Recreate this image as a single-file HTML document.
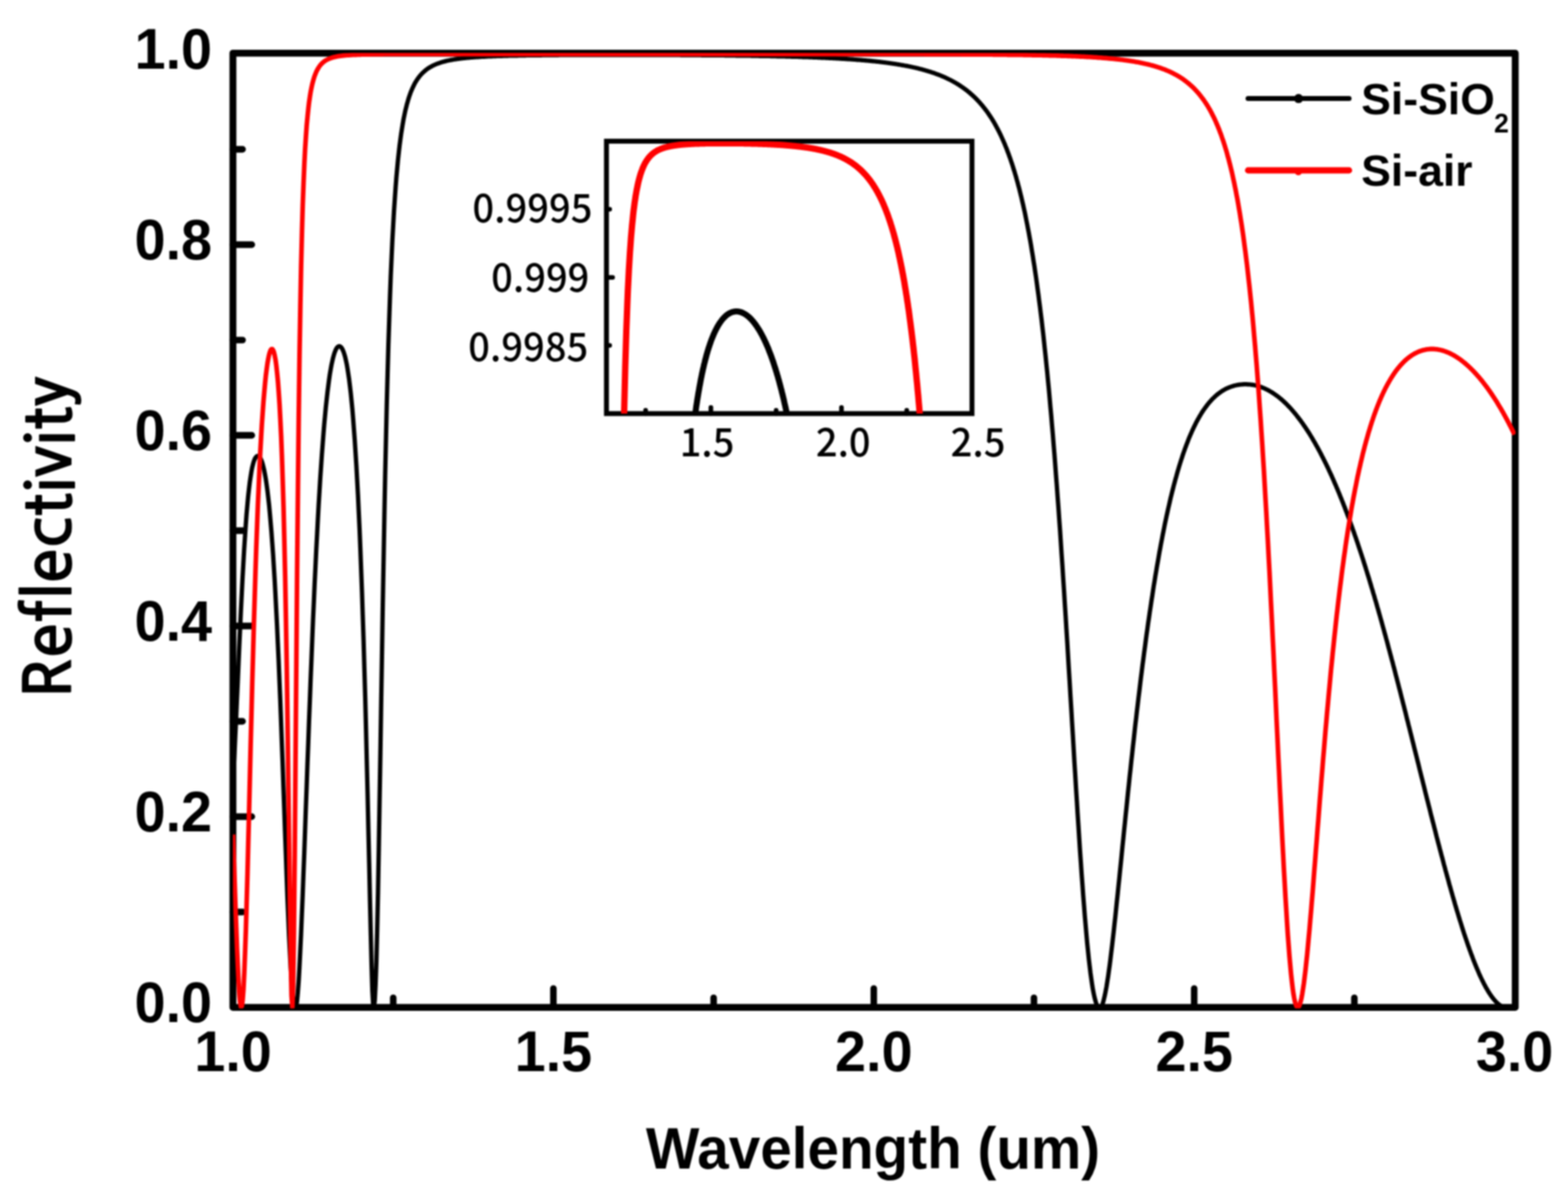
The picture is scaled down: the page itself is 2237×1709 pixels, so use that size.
<!DOCTYPE html>
<html lang="en"><head><meta charset="utf-8"><title>Reflectivity vs Wavelength</title>
<style>html,body{margin:0;padding:0;background:#fff;overflow:hidden}svg{display:block}.a{font-family:"Liberation Sans",Arial,Helvetica,sans-serif;font-weight:700;fill:#000}.m{font-family:"NanumGothic","Noto Sans CJK KR","Liberation Sans",sans-serif;font-weight:700;fill:#000}.n{font-family:"Noto Sans CJK KR","NanumGothic","Liberation Sans",sans-serif;font-weight:400;fill:#000}.k{font-family:"Noto Sans CJK KR","NanumGothic","Liberation Sans",sans-serif;font-weight:500;fill:#000}.g{font-family:"NanumGothic","Noto Sans CJK KR","Liberation Sans",sans-serif;font-weight:400;fill:#000}</style></head><body>
<svg width="2237" height="1709" viewBox="0 0 2237 1709">
<defs><clipPath id="cm"><rect x="332.3" y="75.6" width="1829.9" height="1363.0"/></clipPath><clipPath id="ci"><rect x="865.2" y="201.4" width="521.5" height="388.6"/></clipPath></defs>
<rect width="2237" height="1709" fill="#fff"/>
<defs><filter id="bl" x="-2%" y="-2%" width="104%" height="104%" color-interpolation-filters="sRGB"><feGaussianBlur stdDeviation="0.8"/></filter></defs>
<g filter="url(#bl)">
<rect x="-40" y="-40" width="2317" height="1789" fill="#fff"/>
<g fill="none" stroke="#000" stroke-linecap="round" stroke-linejoin="round">
<rect x="332.3" y="75.8" width="1829.4" height="1361.3" stroke-width="9.8"/>
<path d="M332.3,1301.0h13.8M332.3,1165.0h27.0M332.3,1029.0h13.8M332.3,893.0h27.0M332.3,757.0h13.8M332.3,621.0h27.0M332.3,485.1h13.8M332.3,349.0h27.0M332.3,213.0h13.8M561.0,1437.1v-13.8M789.5,1437.1v-27.0M1018.1,1437.1v-13.8M1246.6,1437.1v-27.0M1475.1,1437.1v-13.8M1703.7,1437.1v-27.0M1932.2,1437.1v-13.8" stroke-width="9.3"/>
</g>
<g>
<text class="a" font-size="82" text-anchor="end" transform="translate(302.5,1458.2) scale(0.97,1)">0.0</text>
<text class="a" font-size="82" text-anchor="end" transform="translate(302.5,1186.2) scale(0.97,1)">0.2</text>
<text class="a" font-size="82" text-anchor="end" transform="translate(302.5,914.2) scale(0.97,1)">0.4</text>
<text class="a" font-size="82" text-anchor="end" transform="translate(302.5,642.2) scale(0.97,1)">0.6</text>
<text class="a" font-size="82" text-anchor="end" transform="translate(302.5,370.2) scale(0.97,1)">0.8</text>
<text class="a" font-size="82" text-anchor="end" transform="translate(302.5,98.2) scale(0.97,1)">1.0</text>
<text class="a" font-size="82" text-anchor="middle" transform="translate(332.5,1528.3) scale(0.97,1)">1.0</text>
<text class="a" font-size="82" text-anchor="middle" transform="translate(789.5,1528.3) scale(0.97,1)">1.5</text>
<text class="a" font-size="82" text-anchor="middle" transform="translate(1246.6,1528.3) scale(0.97,1)">2.0</text>
<text class="a" font-size="82" text-anchor="middle" transform="translate(1703.7,1528.3) scale(0.97,1)">2.5</text>
<text class="a" font-size="82" text-anchor="middle" transform="translate(2160.7,1528.3) scale(0.97,1)">3.0</text>
</g>
<text class="a" font-size="83.0" text-anchor="middle" transform="translate(1245.5,1667.0) scale(0.974,1)">Wavelength (um)</text>
<text class="m" font-size="92.6" text-anchor="middle" transform="translate(102,766.9) rotate(-90) scale(1.0,1)">Reflectivity</text>
<g clip-path="url(#cm)" fill="none" stroke-linejoin="round" stroke-linecap="butt">
<path d="M332.3,1121.1 L333.4,1098.1 L334.6,1074.3 L335.7,1049.7 L336.9,1024.5 L338.0,998.8 L339.2,972.8 L340.3,946.8 L341.4,921.0 L342.6,895.7 L343.7,871.1 L344.9,847.4 L346.0,825.0 L347.2,803.8 L348.3,784.1 L349.5,765.9 L350.6,749.2 L351.7,734.1 L352.9,720.5 L354.0,708.4 L355.2,697.7 L356.3,688.3 L357.5,680.2 L358.6,673.2 L359.7,667.3 L360.9,662.5 L362.0,658.5 L363.2,655.4 L364.3,653.1 L365.5,651.6 L366.6,650.7 L367.7,650.4 L368.9,650.7 L370.0,651.6 L371.2,653.1 L372.3,655.2 L373.5,658.0 L374.6,661.5 L375.7,665.7 L376.9,670.7 L378.0,676.6 L379.2,683.3 L380.3,690.9 L381.5,699.5 L382.6,709.0 L383.8,719.6 L384.9,731.3 L386.0,744.1 L387.2,758.0 L388.3,773.2 L389.5,789.6 L390.6,807.3 L391.8,826.4 L392.9,846.8 L394.0,868.5 L395.2,891.6 L396.3,916.2 L397.5,942.0 L398.6,969.2 L399.8,997.6 L400.9,1027.1 L402.0,1057.6 L403.2,1089.0 L404.3,1120.9 L405.5,1153.2 L406.6,1185.5 L407.8,1217.5 L408.9,1248.8 L410.0,1278.9 L411.2,1307.4 L412.3,1333.9 L413.5,1357.9 L414.6,1379.1 L415.8,1397.3 L416.9,1412.2 L418.1,1423.6 L419.2,1431.7 L420.3,1436.5 L421.5,1438.0 L422.6,1435.4 L423.8,1427.9 L424.9,1415.9 L426.1,1399.9 L427.2,1380.4 L428.3,1357.9 L429.5,1333.0 L430.6,1306.0 L431.8,1277.4 L432.9,1247.6 L434.1,1216.9 L435.2,1185.6 L436.3,1153.9 L437.5,1122.2 L438.6,1090.6 L439.8,1059.3 L440.9,1028.4 L442.1,998.1 L443.2,968.4 L444.4,939.5 L445.5,911.4 L446.6,884.1 L447.8,857.8 L448.9,832.4 L450.1,807.9 L451.2,784.5 L452.4,762.1 L453.5,740.7 L454.6,720.3 L455.8,700.9 L456.9,682.4 L458.1,665.0 L459.2,648.6 L460.4,633.1 L461.5,618.5 L462.6,604.9 L463.8,592.2 L464.9,580.4 L466.1,569.4 L467.2,559.3 L468.4,550.0 L469.5,541.5 L470.6,533.8 L471.8,526.8 L472.9,520.6 L474.1,515.1 L475.2,510.3 L476.4,506.1 L477.5,502.6 L478.7,499.7 L479.8,497.4 L480.9,495.7 L482.1,494.6 L483.2,494.0 L484.4,493.9 L485.5,494.3 L486.7,495.3 L487.8,496.8 L488.9,499.0 L490.1,501.7 L491.2,505.1 L492.4,509.2 L493.5,514.0 L494.7,519.6 L495.8,526.0 L496.9,533.2 L498.1,541.3 L499.2,550.4 L500.4,560.5 L501.5,571.6 L502.7,583.8 L503.8,597.2 L504.9,611.9 L506.1,627.8 L507.2,645.1 L508.4,663.9 L509.5,684.2 L510.7,706.1 L511.8,729.8 L513.0,755.3 L514.1,782.7 L515.2,812.1 L516.4,843.7 L517.5,877.5 L518.7,913.6 L519.8,952.2 L521.0,993.2 L522.1,1036.7 L523.2,1082.7 L524.4,1130.9 L525.5,1181.1 L526.7,1232.4 L527.8,1283.8 L529.0,1333.4 L530.1,1378.0 L531.2,1413.4 L532.4,1434.3 L533.5,1437.0 L534.7,1427.1 L535.8,1405.2 L537.0,1371.7 L538.1,1327.2 L539.3,1273.2 L540.4,1211.6 L541.5,1144.5 L542.7,1074.1 L543.8,1002.5 L545.0,931.6 L546.1,862.8 L547.3,797.1 L548.4,735.3 L549.5,677.8 L550.7,624.8 L551.8,576.2 L553.0,532.0 L554.1,491.8 L555.3,455.5 L556.4,422.6 L557.5,393.0 L558.7,366.4 L559.8,342.3 L561.0,320.6 L562.1,301.0 L563.3,283.4 L564.4,267.4 L565.5,253.0 L566.7,239.9 L567.8,228.0 L569.0,217.2 L570.1,207.4 L571.3,198.4 L572.4,190.2 L573.6,182.8 L574.7,175.9 L575.8,169.6 L577.0,163.9 L578.1,158.6 L579.3,153.7 L580.4,149.2 L581.6,145.1 L582.7,141.2 L583.8,137.7 L585.0,134.4 L586.1,131.3 L587.3,128.5 L588.4,125.9 L589.6,123.4 L590.7,121.1 L591.8,118.9 L593.0,116.9 L594.1,115.1 L595.3,113.3 L596.4,111.7 L597.6,110.1 L598.7,108.7 L599.8,107.3 L601.0,106.0 L602.1,104.8 L603.3,103.7 L604.4,102.6 L605.6,101.6 L606.7,100.6 L607.9,99.7 L609.0,98.8 L610.1,98.0 L611.3,97.3 L612.4,96.5 L613.6,95.8 L614.7,95.2 L615.9,94.5 L617.0,93.9 L618.1,93.4 L619.3,92.8 L620.4,92.3 L621.6,91.8 L622.7,91.3 L623.9,90.9 L625.0,90.5 L626.1,90.1 L627.3,89.7 L628.4,89.3 L629.6,88.9 L630.7,88.6 L631.9,88.3 L633.0,87.9 L634.2,87.6 L635.3,87.4 L636.4,87.1 L637.6,86.8 L638.7,86.5 L639.9,86.3 L641.0,86.1 L642.2,85.8 L643.3,85.6 L644.4,85.4 L645.6,85.2 L646.7,85.0 L647.9,84.8 L649.0,84.6 L650.2,84.4 L651.3,84.3 L652.4,84.1 L653.6,84.0 L654.7,83.8 L655.9,83.7 L657.0,83.5 L658.2,83.4 L659.3,83.2 L660.4,83.1 L661.6,83.0 L662.7,82.9 L663.9,82.7 L665.0,82.6 L666.2,82.5 L667.3,82.4 L668.5,82.3 L669.6,82.2 L670.7,82.1 L671.9,82.0 L673.0,81.9 L674.2,81.8 L675.3,81.7 L676.5,81.7 L677.6,81.6 L678.7,81.5 L679.9,81.4 L681.0,81.3 L682.2,81.3 L683.3,81.2 L684.5,81.1 L685.6,81.1 L686.7,81.0 L687.9,80.9 L689.0,80.9 L690.2,80.8 L691.3,80.8 L692.5,80.7 L693.6,80.6 L694.7,80.6 L695.9,80.5 L697.0,80.5 L698.2,80.4 L699.3,80.4 L700.5,80.3 L701.6,80.3 L702.8,80.2 L703.9,80.2 L705.0,80.2 L706.2,80.1 L707.3,80.1 L708.5,80.0 L709.6,80.0 L710.8,80.0 L711.9,79.9 L713.0,79.9 L714.2,79.9 L715.3,79.8 L716.5,79.8 L717.6,79.7 L718.8,79.7 L719.9,79.7 L721.0,79.7 L722.2,79.6 L723.3,79.6 L724.5,79.6 L725.6,79.5 L726.8,79.5 L727.9,79.5 L729.1,79.5 L730.2,79.4 L731.3,79.4 L732.5,79.4 L733.6,79.4 L734.8,79.3 L735.9,79.3 L737.1,79.3 L738.2,79.3 L739.3,79.2 L740.5,79.2 L741.6,79.2 L742.8,79.2 L743.9,79.2 L745.1,79.1 L746.2,79.1 L747.3,79.1 L748.5,79.1 L749.6,79.1 L750.8,79.0 L751.9,79.0 L753.1,79.0 L754.2,79.0 L755.3,79.0 L756.5,79.0 L757.6,78.9 L758.8,78.9 L759.9,78.9 L761.1,78.9 L762.2,78.9 L763.4,78.9 L764.5,78.8 L765.6,78.8 L766.8,78.8 L767.9,78.8 L769.1,78.8 L770.2,78.8 L771.4,78.8 L772.5,78.8 L773.6,78.7 L774.8,78.7 L775.9,78.7 L777.1,78.7 L778.2,78.7 L779.4,78.7 L780.5,78.7 L781.6,78.7 L782.8,78.7 L783.9,78.6 L785.1,78.6 L786.2,78.6 L787.4,78.6 L788.5,78.6 L789.7,78.6 L790.8,78.6 L791.9,78.6 L793.1,78.6 L794.2,78.6 L795.4,78.6 L796.5,78.6 L797.7,78.5 L798.8,78.5 L799.9,78.5 L801.1,78.5 L802.2,78.5 L803.4,78.5 L804.5,78.5 L805.7,78.5 L806.8,78.5 L807.9,78.5 L809.1,78.5 L810.2,78.5 L811.4,78.5 L812.5,78.5 L813.7,78.4 L814.8,78.4 L815.9,78.4 L817.1,78.4 L818.2,78.4 L819.4,78.4 L820.5,78.4 L821.7,78.4 L822.8,78.4 L824.0,78.4 L825.1,78.4 L826.2,78.4 L827.4,78.4 L828.5,78.4 L829.7,78.4 L830.8,78.4 L832.0,78.4 L833.1,78.4 L834.2,78.4 L835.4,78.4 L836.5,78.4 L837.7,78.4 L838.8,78.4 L840.0,78.4 L841.1,78.3 L842.2,78.3 L843.4,78.3 L844.5,78.3 L845.7,78.3 L846.8,78.3 L848.0,78.3 L849.1,78.3 L850.2,78.3 L851.4,78.3 L852.5,78.3 L853.7,78.3 L854.8,78.3 L856.0,78.3 L857.1,78.3 L858.3,78.3 L859.4,78.3 L860.5,78.3 L861.7,78.3 L862.8,78.3 L864.0,78.3 L865.1,78.3 L866.3,78.3 L867.4,78.3 L868.5,78.3 L869.7,78.3 L870.8,78.3 L872.0,78.3 L873.1,78.3 L874.3,78.3 L875.4,78.3 L876.5,78.3 L877.7,78.3 L878.8,78.3 L880.0,78.3 L881.1,78.3 L882.3,78.3 L883.4,78.3 L884.6,78.3 L885.7,78.3 L886.8,78.3 L888.0,78.3 L889.1,78.3 L890.3,78.3 L891.4,78.3 L892.6,78.3 L893.7,78.3 L894.8,78.3 L896.0,78.3 L897.1,78.3 L898.3,78.3 L899.4,78.3 L900.6,78.3 L901.7,78.3 L902.8,78.3 L904.0,78.3 L905.1,78.3 L906.3,78.3 L907.4,78.3 L908.6,78.3 L909.7,78.3 L910.8,78.3 L912.0,78.3 L913.1,78.3 L914.3,78.3 L915.4,78.3 L916.6,78.3 L917.7,78.3 L918.9,78.3 L920.0,78.4 L921.1,78.4 L922.3,78.4 L923.4,78.4 L924.6,78.4 L925.7,78.4 L926.9,78.4 L928.0,78.4 L929.1,78.4 L930.3,78.4 L931.4,78.4 L932.6,78.4 L933.7,78.4 L934.9,78.4 L936.0,78.4 L937.1,78.4 L938.3,78.4 L939.4,78.4 L940.6,78.4 L941.7,78.4 L942.9,78.4 L944.0,78.4 L945.1,78.4 L946.3,78.4 L947.4,78.4 L948.6,78.4 L949.7,78.4 L950.9,78.5 L952.0,78.5 L953.2,78.5 L954.3,78.5 L955.4,78.5 L956.6,78.5 L957.7,78.5 L958.9,78.5 L960.0,78.5 L961.2,78.5 L962.3,78.5 L963.4,78.5 L964.6,78.5 L965.7,78.5 L966.9,78.5 L968.0,78.5 L969.2,78.5 L970.3,78.5 L971.4,78.6 L972.6,78.6 L973.7,78.6 L974.9,78.6 L976.0,78.6 L977.2,78.6 L978.3,78.6 L979.5,78.6 L980.6,78.6 L981.7,78.6 L982.9,78.6 L984.0,78.6 L985.2,78.6 L986.3,78.6 L987.5,78.7 L988.6,78.7 L989.7,78.7 L990.9,78.7 L992.0,78.7 L993.2,78.7 L994.3,78.7 L995.5,78.7 L996.6,78.7 L997.7,78.7 L998.9,78.7 L1000.0,78.7 L1001.2,78.8 L1002.3,78.8 L1003.5,78.8 L1004.6,78.8 L1005.7,78.8 L1006.9,78.8 L1008.0,78.8 L1009.2,78.8 L1010.3,78.8 L1011.5,78.8 L1012.6,78.8 L1013.8,78.9 L1014.9,78.9 L1016.0,78.9 L1017.2,78.9 L1018.3,78.9 L1019.5,78.9 L1020.6,78.9 L1021.8,78.9 L1022.9,78.9 L1024.0,79.0 L1025.2,79.0 L1026.3,79.0 L1027.5,79.0 L1028.6,79.0 L1029.8,79.0 L1030.9,79.0 L1032.0,79.0 L1033.2,79.0 L1034.3,79.1 L1035.5,79.1 L1036.6,79.1 L1037.8,79.1 L1038.9,79.1 L1040.0,79.1 L1041.2,79.1 L1042.3,79.2 L1043.5,79.2 L1044.6,79.2 L1045.8,79.2 L1046.9,79.2 L1048.1,79.2 L1049.2,79.2 L1050.3,79.3 L1051.5,79.3 L1052.6,79.3 L1053.8,79.3 L1054.9,79.3 L1056.1,79.3 L1057.2,79.3 L1058.3,79.4 L1059.5,79.4 L1060.6,79.4 L1061.8,79.4 L1062.9,79.4 L1064.1,79.4 L1065.2,79.5 L1066.3,79.5 L1067.5,79.5 L1068.6,79.5 L1069.8,79.5 L1070.9,79.5 L1072.1,79.6 L1073.2,79.6 L1074.4,79.6 L1075.5,79.6 L1076.6,79.6 L1077.8,79.7 L1078.9,79.7 L1080.1,79.7 L1081.2,79.7 L1082.4,79.7 L1083.5,79.8 L1084.6,79.8 L1085.8,79.8 L1086.9,79.8 L1088.1,79.8 L1089.2,79.9 L1090.4,79.9 L1091.5,79.9 L1092.6,79.9 L1093.8,79.9 L1094.9,80.0 L1096.1,80.0 L1097.2,80.0 L1098.4,80.0 L1099.5,80.1 L1100.6,80.1 L1101.8,80.1 L1102.9,80.1 L1104.1,80.2 L1105.2,80.2 L1106.4,80.2 L1107.5,80.2 L1108.7,80.3 L1109.8,80.3 L1110.9,80.3 L1112.1,80.3 L1113.2,80.4 L1114.4,80.4 L1115.5,80.4 L1116.7,80.4 L1117.8,80.5 L1118.9,80.5 L1120.1,80.5 L1121.2,80.6 L1122.4,80.6 L1123.5,80.6 L1124.7,80.7 L1125.8,80.7 L1126.9,80.7 L1128.1,80.7 L1129.2,80.8 L1130.4,80.8 L1131.5,80.8 L1132.7,80.9 L1133.8,80.9 L1134.9,80.9 L1136.1,81.0 L1137.2,81.0 L1138.4,81.0 L1139.5,81.1 L1140.7,81.1 L1141.8,81.1 L1143.0,81.2 L1144.1,81.2 L1145.2,81.3 L1146.4,81.3 L1147.5,81.3 L1148.7,81.4 L1149.8,81.4 L1151.0,81.5 L1152.1,81.5 L1153.2,81.5 L1154.4,81.6 L1155.5,81.6 L1156.7,81.7 L1157.8,81.7 L1159.0,81.7 L1160.1,81.8 L1161.2,81.8 L1162.4,81.9 L1163.5,81.9 L1164.7,82.0 L1165.8,82.0 L1167.0,82.1 L1168.1,82.1 L1169.3,82.2 L1170.4,82.2 L1171.5,82.3 L1172.7,82.3 L1173.8,82.4 L1175.0,82.4 L1176.1,82.5 L1177.3,82.5 L1178.4,82.6 L1179.5,82.6 L1180.7,82.7 L1181.8,82.7 L1183.0,82.8 L1184.1,82.8 L1185.3,82.9 L1186.4,82.9 L1187.5,83.0 L1188.7,83.1 L1189.8,83.1 L1191.0,83.2 L1192.1,83.2 L1193.3,83.3 L1194.4,83.4 L1195.5,83.4 L1196.7,83.5 L1197.8,83.6 L1199.0,83.6 L1200.1,83.7 L1201.3,83.8 L1202.4,83.8 L1203.6,83.9 L1204.7,84.0 L1205.8,84.1 L1207.0,84.1 L1208.1,84.2 L1209.3,84.3 L1210.4,84.3 L1211.6,84.4 L1212.7,84.5 L1213.8,84.6 L1215.0,84.7 L1216.1,84.7 L1217.3,84.8 L1218.4,84.9 L1219.6,85.0 L1220.7,85.1 L1221.8,85.2 L1223.0,85.3 L1224.1,85.3 L1225.3,85.4 L1226.4,85.5 L1227.6,85.6 L1228.7,85.7 L1229.8,85.8 L1231.0,85.9 L1232.1,86.0 L1233.3,86.1 L1234.4,86.2 L1235.6,86.3 L1236.7,86.4 L1237.9,86.5 L1239.0,86.6 L1240.1,86.7 L1241.3,86.8 L1242.4,86.9 L1243.6,87.1 L1244.7,87.2 L1245.9,87.3 L1247.0,87.4 L1248.1,87.5 L1249.3,87.6 L1250.4,87.8 L1251.6,87.9 L1252.7,88.0 L1253.9,88.1 L1255.0,88.3 L1256.1,88.4 L1257.3,88.5 L1258.4,88.7 L1259.6,88.8 L1260.7,89.0 L1261.9,89.1 L1263.0,89.2 L1264.2,89.4 L1265.3,89.5 L1266.4,89.7 L1267.6,89.8 L1268.7,90.0 L1269.9,90.2 L1271.0,90.3 L1272.2,90.5 L1273.3,90.7 L1274.4,90.8 L1275.6,91.0 L1276.7,91.2 L1277.9,91.3 L1279.0,91.5 L1280.2,91.7 L1281.3,91.9 L1282.4,92.1 L1283.6,92.3 L1284.7,92.5 L1285.9,92.7 L1287.0,92.9 L1288.2,93.1 L1289.3,93.3 L1290.4,93.5 L1291.6,93.7 L1292.7,93.9 L1293.9,94.1 L1295.0,94.3 L1296.2,94.6 L1297.3,94.8 L1298.5,95.0 L1299.6,95.3 L1300.7,95.5 L1301.9,95.8 L1303.0,96.0 L1304.2,96.3 L1305.3,96.5 L1306.5,96.8 L1307.6,97.1 L1308.7,97.3 L1309.9,97.6 L1311.0,97.9 L1312.2,98.2 L1313.3,98.5 L1314.5,98.8 L1315.6,99.1 L1316.7,99.4 L1317.9,99.7 L1319.0,100.0 L1320.2,100.4 L1321.3,100.7 L1322.5,101.0 L1323.6,101.4 L1324.7,101.7 L1325.9,102.1 L1327.0,102.4 L1328.2,102.8 L1329.3,103.2 L1330.5,103.6 L1331.6,103.9 L1332.8,104.3 L1333.9,104.7 L1335.0,105.2 L1336.2,105.6 L1337.3,106.0 L1338.5,106.4 L1339.6,106.9 L1340.8,107.3 L1341.9,107.8 L1343.0,108.3 L1344.2,108.7 L1345.3,109.2 L1346.5,109.7 L1347.6,110.2 L1348.8,110.7 L1349.9,111.3 L1351.0,111.8 L1352.2,112.3 L1353.3,112.9 L1354.5,113.5 L1355.6,114.0 L1356.8,114.6 L1357.9,115.2 L1359.1,115.8 L1360.2,116.5 L1361.3,117.1 L1362.5,117.8 L1363.6,118.4 L1364.8,119.1 L1365.9,119.8 L1367.1,120.5 L1368.2,121.2 L1369.3,122.0 L1370.5,122.7 L1371.6,123.5 L1372.8,124.3 L1373.9,125.1 L1375.1,125.9 L1376.2,126.7 L1377.3,127.6 L1378.5,128.4 L1379.6,129.3 L1380.8,130.2 L1381.9,131.2 L1383.1,132.1 L1384.2,133.1 L1385.3,134.1 L1386.5,135.1 L1387.6,136.1 L1388.8,137.2 L1389.9,138.3 L1391.1,139.4 L1392.2,140.5 L1393.4,141.7 L1394.5,142.9 L1395.6,144.1 L1396.8,145.3 L1397.9,146.6 L1399.1,147.9 L1400.2,149.2 L1401.4,150.6 L1402.5,152.0 L1403.6,153.4 L1404.8,154.8 L1405.9,156.3 L1407.1,157.9 L1408.2,159.4 L1409.4,161.0 L1410.5,162.7 L1411.6,164.4 L1412.8,166.1 L1413.9,167.8 L1415.1,169.6 L1416.2,171.5 L1417.4,173.4 L1418.5,175.3 L1419.6,177.3 L1420.8,179.4 L1421.9,181.5 L1423.1,183.6 L1424.2,185.8 L1425.4,188.1 L1426.5,190.4 L1427.7,192.8 L1428.8,195.2 L1429.9,197.7 L1431.1,200.3 L1432.2,202.9 L1433.4,205.6 L1434.5,208.4 L1435.7,211.2 L1436.8,214.1 L1437.9,217.1 L1439.1,220.2 L1440.2,223.4 L1441.4,226.6 L1442.5,230.0 L1443.7,233.4 L1444.8,236.9 L1445.9,240.5 L1447.1,244.2 L1448.2,248.0 L1449.4,251.9 L1450.5,256.0 L1451.7,260.1 L1452.8,264.4 L1454.0,268.7 L1455.1,273.2 L1456.2,277.8 L1457.4,282.6 L1458.5,287.5 L1459.7,292.5 L1460.8,297.6 L1462.0,302.9 L1463.1,308.4 L1464.2,314.0 L1465.4,319.8 L1466.5,325.7 L1467.7,331.8 L1468.8,338.1 L1470.0,344.5 L1471.1,351.1 L1472.2,358.0 L1473.4,365.0 L1474.5,372.2 L1475.7,379.6 L1476.8,387.3 L1478.0,395.1 L1479.1,403.2 L1480.2,411.5 L1481.4,420.0 L1482.5,428.8 L1483.7,437.8 L1484.8,447.0 L1486.0,456.5 L1487.1,466.3 L1488.3,476.4 L1489.4,486.7 L1490.5,497.3 L1491.7,508.2 L1492.8,519.3 L1494.0,530.8 L1495.1,542.5 L1496.3,554.6 L1497.4,567.0 L1498.5,579.7 L1499.7,592.6 L1500.8,605.9 L1502.0,619.6 L1503.1,633.5 L1504.3,647.8 L1505.4,662.3 L1506.5,677.2 L1507.7,692.4 L1508.8,708.0 L1510.0,723.8 L1511.1,739.9 L1512.3,756.3 L1513.4,773.1 L1514.5,790.1 L1515.7,807.3 L1516.8,824.9 L1518.0,842.6 L1519.1,860.6 L1520.3,878.9 L1521.4,897.3 L1522.6,915.8 L1523.7,934.6 L1524.8,953.4 L1526.0,972.4 L1527.1,991.4 L1528.3,1010.5 L1529.4,1029.6 L1530.6,1048.7 L1531.7,1067.7 L1532.8,1086.7 L1534.0,1105.5 L1535.1,1124.1 L1536.3,1142.6 L1537.4,1160.8 L1538.6,1178.7 L1539.7,1196.3 L1540.8,1213.5 L1542.0,1230.3 L1543.1,1246.7 L1544.3,1262.6 L1545.4,1278.0 L1546.6,1292.8 L1547.7,1307.1 L1548.9,1320.7 L1550.0,1333.6 L1551.1,1345.9 L1552.3,1357.5 L1553.4,1368.3 L1554.6,1378.4 L1555.7,1387.7 L1556.9,1396.2 L1558.0,1404.0 L1559.1,1410.9 L1560.3,1417.1 L1561.4,1422.4 L1562.6,1426.9 L1563.7,1430.7 L1564.9,1433.6 L1566.0,1435.8 L1567.1,1437.2 L1568.3,1437.9 L1569.4,1437.9 L1570.6,1436.9 L1571.7,1435.1 L1572.9,1432.4 L1574.0,1428.9 L1575.1,1424.6 L1576.3,1419.5 L1577.4,1413.8 L1578.6,1407.5 L1579.7,1400.5 L1580.9,1393.0 L1582.0,1385.0 L1583.2,1376.5 L1584.3,1367.6 L1585.4,1358.3 L1586.6,1348.7 L1587.7,1338.8 L1588.9,1328.6 L1590.0,1318.2 L1591.2,1307.6 L1592.3,1296.8 L1593.4,1285.9 L1594.6,1274.8 L1595.7,1263.7 L1596.9,1252.5 L1598.0,1241.2 L1599.2,1229.9 L1600.3,1218.6 L1601.4,1207.3 L1602.6,1196.0 L1603.7,1184.7 L1604.9,1173.5 L1606.0,1162.3 L1607.2,1151.1 L1608.3,1140.1 L1609.4,1129.1 L1610.6,1118.1 L1611.7,1107.3 L1612.9,1096.6 L1614.0,1085.9 L1615.2,1075.4 L1616.3,1064.9 L1617.5,1054.6 L1618.6,1044.4 L1619.7,1034.2 L1620.9,1024.3 L1622.0,1014.4 L1623.2,1004.6 L1624.3,995.0 L1625.5,985.5 L1626.6,976.1 L1627.7,966.9 L1628.9,957.7 L1630.0,948.7 L1631.2,939.8 L1632.3,931.1 L1633.5,922.5 L1634.6,914.0 L1635.7,905.6 L1636.9,897.4 L1638.0,889.2 L1639.2,881.2 L1640.3,873.4 L1641.5,865.6 L1642.6,858.0 L1643.8,850.5 L1644.9,843.1 L1646.0,835.9 L1647.2,828.7 L1648.3,821.7 L1649.5,814.8 L1650.6,808.1 L1651.8,801.4 L1652.9,794.9 L1654.0,788.5 L1655.2,782.2 L1656.3,776.0 L1657.5,770.0 L1658.6,764.0 L1659.8,758.2 L1660.9,752.5 L1662.0,746.9 L1663.2,741.4 L1664.3,736.1 L1665.5,730.8 L1666.6,725.6 L1667.8,720.6 L1668.9,715.7 L1670.0,710.8 L1671.2,706.1 L1672.3,701.5 L1673.5,696.9 L1674.6,692.5 L1675.8,688.2 L1676.9,683.9 L1678.1,679.8 L1679.2,675.7 L1680.3,671.8 L1681.5,667.9 L1682.6,664.1 L1683.8,660.4 L1684.9,656.8 L1686.1,653.3 L1687.2,649.8 L1688.3,646.5 L1689.5,643.2 L1690.6,640.0 L1691.8,636.8 L1692.9,633.8 L1694.1,630.8 L1695.2,627.9 L1696.3,625.0 L1697.5,622.3 L1698.6,619.6 L1699.8,617.0 L1700.9,614.4 L1702.1,611.9 L1703.2,609.5 L1704.4,607.1 L1705.5,604.8 L1706.6,602.6 L1707.8,600.4 L1708.9,598.3 L1710.1,596.3 L1711.2,594.3 L1712.4,592.3 L1713.5,590.5 L1714.6,588.6 L1715.8,586.9 L1716.9,585.1 L1718.1,583.5 L1719.2,581.9 L1720.4,580.3 L1721.5,578.8 L1722.6,577.3 L1723.8,575.9 L1724.9,574.5 L1726.1,573.2 L1727.2,571.9 L1728.4,570.6 L1729.5,569.4 L1730.6,568.3 L1731.8,567.2 L1732.9,566.1 L1734.1,565.0 L1735.2,564.0 L1736.4,563.1 L1737.5,562.1 L1738.7,561.2 L1739.8,560.4 L1740.9,559.6 L1742.1,558.8 L1743.2,558.0 L1744.4,557.3 L1745.5,556.6 L1746.7,556.0 L1747.8,555.3 L1748.9,554.7 L1750.1,554.2 L1751.2,553.6 L1752.4,553.1 L1753.5,552.6 L1754.7,552.2 L1755.8,551.8 L1756.9,551.4 L1758.1,551.0 L1759.2,550.7 L1760.4,550.3 L1761.5,550.0 L1762.7,549.8 L1763.8,549.5 L1764.9,549.3 L1766.1,549.1 L1767.2,548.9 L1768.4,548.7 L1769.5,548.6 L1770.7,548.5 L1771.8,548.4 L1773.0,548.3 L1774.1,548.2 L1775.2,548.2 L1776.4,548.2 L1777.5,548.2 L1778.7,548.2 L1779.8,548.3 L1781.0,548.3 L1782.1,548.4 L1783.2,548.5 L1784.4,548.6 L1785.5,548.8 L1786.7,548.9 L1787.8,549.1 L1789.0,549.3 L1790.1,549.6 L1791.2,549.8 L1792.4,550.1 L1793.5,550.4 L1794.7,550.7 L1795.8,551.1 L1797.0,551.4 L1798.1,551.8 L1799.3,552.2 L1800.4,552.6 L1801.5,553.1 L1802.7,553.5 L1803.8,554.0 L1805.0,554.6 L1806.1,555.1 L1807.3,555.6 L1808.4,556.2 L1809.5,556.8 L1810.7,557.5 L1811.8,558.1 L1813.0,558.8 L1814.1,559.5 L1815.3,560.2 L1816.4,560.9 L1817.5,561.7 L1818.7,562.5 L1819.8,563.3 L1821.0,564.1 L1822.1,564.9 L1823.3,565.8 L1824.4,566.7 L1825.5,567.6 L1826.7,568.6 L1827.8,569.5 L1829.0,570.5 L1830.1,571.5 L1831.3,572.6 L1832.4,573.6 L1833.6,574.7 L1834.7,575.8 L1835.8,576.9 L1837.0,578.1 L1838.1,579.3 L1839.3,580.5 L1840.4,581.7 L1841.6,583.0 L1842.7,584.2 L1843.8,585.5 L1845.0,586.8 L1846.1,588.2 L1847.3,589.6 L1848.4,590.9 L1849.6,592.4 L1850.7,593.8 L1851.8,595.3 L1853.0,596.8 L1854.1,598.3 L1855.3,599.8 L1856.4,601.4 L1857.6,603.0 L1858.7,604.6 L1859.8,606.2 L1861.0,607.9 L1862.1,609.5 L1863.3,611.3 L1864.4,613.0 L1865.6,614.8 L1866.7,616.5 L1867.9,618.3 L1869.0,620.2 L1870.1,622.0 L1871.3,623.9 L1872.4,625.8 L1873.6,627.8 L1874.7,629.7 L1875.9,631.7 L1877.0,633.7 L1878.1,635.7 L1879.3,637.8 L1880.4,639.9 L1881.6,642.0 L1882.7,644.1 L1883.9,646.3 L1885.0,648.5 L1886.1,650.7 L1887.3,652.9 L1888.4,655.2 L1889.6,657.5 L1890.7,659.8 L1891.9,662.1 L1893.0,664.5 L1894.2,666.9 L1895.3,669.3 L1896.4,671.8 L1897.6,674.2 L1898.7,676.7 L1899.9,679.2 L1901.0,681.8 L1902.2,684.4 L1903.3,687.0 L1904.4,689.6 L1905.6,692.2 L1906.7,694.9 L1907.9,697.6 L1909.0,700.3 L1910.2,703.1 L1911.3,705.9 L1912.4,708.7 L1913.6,711.5 L1914.7,714.4 L1915.9,717.3 L1917.0,720.2 L1918.2,723.1 L1919.3,726.1 L1920.4,729.1 L1921.6,732.1 L1922.7,735.1 L1923.9,738.2 L1925.0,741.3 L1926.2,744.4 L1927.3,747.6 L1928.5,750.8 L1929.6,754.0 L1930.7,757.2 L1931.9,760.4 L1933.0,763.7 L1934.2,767.0 L1935.3,770.4 L1936.5,773.7 L1937.6,777.1 L1938.7,780.5 L1939.9,784.0 L1941.0,787.4 L1942.2,790.9 L1943.3,794.4 L1944.5,798.0 L1945.6,801.5 L1946.7,805.1 L1947.9,808.7 L1949.0,812.4 L1950.2,816.1 L1951.3,819.8 L1952.5,823.5 L1953.6,827.2 L1954.7,831.0 L1955.9,834.8 L1957.0,838.6 L1958.2,842.4 L1959.3,846.3 L1960.5,850.2 L1961.6,854.1 L1962.8,858.0 L1963.9,861.9 L1965.0,865.9 L1966.2,869.9 L1967.3,873.9 L1968.5,878.0 L1969.6,882.0 L1970.8,886.1 L1971.9,890.2 L1973.0,894.3 L1974.2,898.5 L1975.3,902.6 L1976.5,906.8 L1977.6,911.0 L1978.8,915.2 L1979.9,919.4 L1981.0,923.7 L1982.2,928.0 L1983.3,932.3 L1984.5,936.6 L1985.6,940.9 L1986.8,945.2 L1987.9,949.6 L1989.1,953.9 L1990.2,958.3 L1991.3,962.7 L1992.5,967.1 L1993.6,971.5 L1994.8,976.0 L1995.9,980.4 L1997.1,984.9 L1998.2,989.3 L1999.3,993.8 L2000.5,998.3 L2001.6,1002.8 L2002.8,1007.3 L2003.9,1011.8 L2005.1,1016.3 L2006.2,1020.9 L2007.3,1025.4 L2008.5,1029.9 L2009.6,1034.5 L2010.8,1039.0 L2011.9,1043.6 L2013.1,1048.2 L2014.2,1052.7 L2015.3,1057.3 L2016.5,1061.9 L2017.6,1066.5 L2018.8,1071.1 L2019.9,1075.6 L2021.1,1080.2 L2022.2,1084.8 L2023.4,1089.4 L2024.5,1094.0 L2025.6,1098.6 L2026.8,1103.2 L2027.9,1107.7 L2029.1,1112.3 L2030.2,1116.9 L2031.4,1121.5 L2032.5,1126.0 L2033.6,1130.6 L2034.8,1135.2 L2035.9,1139.7 L2037.1,1144.3 L2038.2,1148.8 L2039.4,1153.3 L2040.5,1157.9 L2041.6,1162.4 L2042.8,1166.9 L2043.9,1171.4 L2045.1,1175.8 L2046.2,1180.3 L2047.4,1184.8 L2048.5,1189.2 L2049.6,1193.7 L2050.8,1198.1 L2051.9,1202.5 L2053.1,1206.9 L2054.2,1211.2 L2055.4,1215.6 L2056.5,1219.9 L2057.7,1224.2 L2058.8,1228.5 L2059.9,1232.8 L2061.1,1237.0 L2062.2,1241.3 L2063.4,1245.5 L2064.5,1249.7 L2065.7,1253.8 L2066.8,1258.0 L2067.9,1262.1 L2069.1,1266.2 L2070.2,1270.2 L2071.4,1274.3 L2072.5,1278.3 L2073.7,1282.3 L2074.8,1286.2 L2075.9,1290.1 L2077.1,1294.0 L2078.2,1297.8 L2079.4,1301.7 L2080.5,1305.4 L2081.7,1309.2 L2082.8,1312.9 L2084.0,1316.6 L2085.1,1320.2 L2086.2,1323.8 L2087.4,1327.4 L2088.5,1330.9 L2089.7,1334.4 L2090.8,1337.8 L2092.0,1341.2 L2093.1,1344.5 L2094.2,1347.9 L2095.4,1351.1 L2096.5,1354.3 L2097.7,1357.5 L2098.8,1360.6 L2100.0,1363.7 L2101.1,1366.7 L2102.2,1369.7 L2103.4,1372.6 L2104.5,1375.5 L2105.7,1378.3 L2106.8,1381.1 L2108.0,1383.8 L2109.1,1386.4 L2110.2,1389.0 L2111.4,1391.6 L2112.5,1394.0 L2113.7,1396.5 L2114.8,1398.8 L2116.0,1401.1 L2117.1,1403.4 L2118.3,1405.6 L2119.4,1407.7 L2120.5,1409.7 L2121.7,1411.7 L2122.8,1413.6 L2124.0,1415.5 L2125.1,1417.3 L2126.3,1419.0 L2127.4,1420.7 L2128.5,1422.2 L2129.7,1423.7 L2130.8,1425.2 L2132.0,1426.5 L2133.1,1427.8 L2134.3,1429.1 L2135.4,1430.2 L2136.5,1431.3 L2137.7,1432.3 L2138.8,1433.2 L2140.0,1434.0 L2141.1,1434.8 L2142.3,1435.5 L2143.4,1436.1 L2144.5,1436.6 L2145.7,1437.0 L2146.8,1437.4 L2148.0,1437.7 L2149.1,1437.9 L2150.3,1438.0 L2151.4,1438.0 L2152.6,1438.0 L2153.7,1438.0 L2154.8,1438.0 L2156.0,1438.0 L2157.1,1438.0 L2158.3,1438.0 L2159.4,1438.0 L2160.6,1438.0 L2161.7,1438.0" stroke="#000" stroke-width="6.2"/>
<path d="M332.5,1190.4 L333.6,1224.7 L334.8,1258.8 L335.9,1292.2 L337.1,1324.1 L338.2,1353.7 L339.4,1380.1 L340.5,1402.5 L341.6,1419.9 L342.8,1431.5 L343.9,1436.8 L345.1,1435.2 L346.2,1426.5 L347.4,1410.8 L348.5,1388.4 L349.6,1359.8 L350.8,1325.9 L351.9,1287.5 L353.1,1245.7 L354.2,1201.4 L355.4,1155.6 L356.5,1109.1 L357.6,1062.8 L358.8,1017.3 L359.9,973.0 L361.1,930.4 L362.2,889.7 L363.4,851.3 L364.5,815.0 L365.6,781.1 L366.8,749.5 L367.9,720.2 L369.1,693.1 L370.2,668.2 L371.3,645.3 L372.5,624.4 L373.6,605.4 L374.8,588.2 L375.9,572.7 L377.1,558.8 L378.2,546.4 L379.3,535.5 L380.5,526.1 L381.6,518.1 L382.8,511.4 L383.9,506.1 L385.1,502.0 L386.2,499.4 L387.3,498.0 L388.5,498.1 L389.6,499.5 L390.8,502.5 L391.9,507.1 L393.1,513.3 L394.2,521.4 L395.3,531.6 L396.5,543.9 L397.6,558.8 L398.8,576.5 L399.9,597.4 L401.1,621.9 L402.2,650.6 L403.3,684.1 L404.5,723.2 L405.6,768.6 L406.8,821.1 L407.9,881.7 L409.1,950.7 L410.2,1028.1 L411.3,1113.0 L412.5,1202.2 L413.6,1289.9 L414.8,1366.7 L415.9,1420.1 L417.1,1436.7 L418.2,1407.4 L419.3,1331.6 L420.5,1218.6 L421.6,1084.3 L422.8,944.9 L423.9,812.7 L425.1,694.5 L426.2,592.9 L427.3,507.6 L428.5,437.1 L429.6,379.2 L430.8,331.7 L431.9,292.7 L433.1,260.7 L434.2,234.2 L435.3,212.3 L436.5,194.0 L437.6,178.6 L438.8,165.7 L439.9,154.8 L441.0,145.4 L442.2,137.5 L443.3,130.6 L444.5,124.7 L445.6,119.6 L446.8,115.2 L447.9,111.3 L449.0,107.9 L450.2,104.9 L451.3,102.3 L452.5,99.9 L453.6,97.9 L454.8,96.0 L455.9,94.4 L457.0,92.9 L458.2,91.6 L459.3,90.4 L460.5,89.4 L461.6,88.4 L462.8,87.5 L463.9,86.7 L465.0,86.0 L466.2,85.4 L467.3,84.8 L468.5,84.2 L469.6,83.7 L470.8,83.3 L471.9,82.9 L473.0,82.5 L474.2,82.1 L475.3,81.8 L476.5,81.5 L477.6,81.2 L478.8,81.0 L479.9,80.7 L481.0,80.5 L482.2,80.3 L483.3,80.1 L484.5,80.0 L485.6,79.8 L486.8,79.7 L487.9,79.5 L489.0,79.4 L490.2,79.3 L491.3,79.1 L492.5,79.0 L493.6,78.9 L494.8,78.8 L495.9,78.8 L497.0,78.7 L498.2,78.6 L499.3,78.5 L500.5,78.5 L501.6,78.4 L502.8,78.3 L503.9,78.3 L505.0,78.2 L506.2,78.2 L507.3,78.1 L508.5,78.1 L509.6,78.0 L510.7,78.0 L511.9,77.9 L513.0,77.9 L514.2,77.9 L515.3,77.8 L516.5,77.8 L517.6,77.8 L518.7,77.7 L519.9,77.7 L521.0,77.7 L522.2,77.7 L523.3,77.6 L524.5,77.6 L525.6,77.6 L526.7,77.6 L527.9,77.6 L529.0,77.5 L530.2,77.5 L531.3,77.5 L532.5,77.5 L533.6,77.5 L534.7,77.5 L535.9,77.5 L537.0,77.4 L538.2,77.4 L539.3,77.4 L540.5,77.4 L541.6,77.4 L542.7,77.4 L543.9,77.4 L545.0,77.4 L546.2,77.4 L547.3,77.3 L548.5,77.3 L549.6,77.3 L550.7,77.3 L551.9,77.3 L553.0,77.3 L554.2,77.3 L555.3,77.3 L556.5,77.3 L557.6,77.3 L558.7,77.3 L559.9,77.3 L561.0,77.3 L562.2,77.3 L563.3,77.2 L564.5,77.2 L565.6,77.2 L566.7,77.2 L567.9,77.2 L569.0,77.2 L570.2,77.2 L571.3,77.2 L572.5,77.2 L573.6,77.2 L574.7,77.2 L575.9,77.2 L577.0,77.2 L578.2,77.2 L579.3,77.2 L580.4,77.2 L581.6,77.2 L582.7,77.2 L583.9,77.2 L585.0,77.2 L586.2,77.2 L587.3,77.2 L588.4,77.2 L589.6,77.2 L590.7,77.2 L591.9,77.2 L593.0,77.2 L594.2,77.2 L595.3,77.2 L596.4,77.2 L597.6,77.2 L598.7,77.1 L599.9,77.1 L601.0,77.1 L602.2,77.1 L603.3,77.1 L604.4,77.1 L605.6,77.1 L606.7,77.1 L607.9,77.1 L609.0,77.1 L610.2,77.1 L611.3,77.1 L612.4,77.1 L613.6,77.1 L614.7,77.1 L615.9,77.1 L617.0,77.1 L618.2,77.1 L619.3,77.1 L620.4,77.1 L621.6,77.1 L622.7,77.1 L623.9,77.1 L625.0,77.1 L626.2,77.1 L627.3,77.1 L628.4,77.1 L629.6,77.1 L630.7,77.1 L631.9,77.1 L633.0,77.1 L634.2,77.1 L635.3,77.1 L636.4,77.1 L637.6,77.1 L638.7,77.1 L639.9,77.1 L641.0,77.1 L642.2,77.1 L643.3,77.1 L644.4,77.1 L645.6,77.1 L646.7,77.1 L647.9,77.1 L649.0,77.1 L650.1,77.1 L651.3,77.1 L652.4,77.1 L653.6,77.1 L654.7,77.1 L655.9,77.1 L657.0,77.1 L658.1,77.1 L659.3,77.1 L660.4,77.1 L661.6,77.1 L662.7,77.1 L663.9,77.1 L665.0,77.1 L666.1,77.1 L667.3,77.1 L668.4,77.1 L669.6,77.1 L670.7,77.1 L671.9,77.1 L673.0,77.1 L674.1,77.1 L675.3,77.1 L676.4,77.1 L677.6,77.1 L678.7,77.1 L679.9,77.1 L681.0,77.1 L682.1,77.1 L683.3,77.1 L684.4,77.1 L685.6,77.1 L686.7,77.1 L687.9,77.1 L689.0,77.1 L690.1,77.1 L691.3,77.1 L692.4,77.1 L693.6,77.1 L694.7,77.1 L695.9,77.1 L697.0,77.1 L698.1,77.1 L699.3,77.1 L700.4,77.1 L701.6,77.1 L702.7,77.1 L703.9,77.1 L705.0,77.1 L706.1,77.1 L707.3,77.1 L708.4,77.1 L709.6,77.1 L710.7,77.1 L711.9,77.1 L713.0,77.1 L714.1,77.1 L715.3,77.1 L716.4,77.1 L717.6,77.1 L718.7,77.1 L719.8,77.1 L721.0,77.1 L722.1,77.1 L723.3,77.1 L724.4,77.1 L725.6,77.1 L726.7,77.1 L727.8,77.1 L729.0,77.1 L730.1,77.1 L731.3,77.1 L732.4,77.1 L733.6,77.1 L734.7,77.1 L735.8,77.1 L737.0,77.1 L738.1,77.1 L739.3,77.1 L740.4,77.1 L741.6,77.1 L742.7,77.1 L743.8,77.1 L745.0,77.1 L746.1,77.1 L747.3,77.1 L748.4,77.1 L749.6,77.1 L750.7,77.1 L751.8,77.1 L753.0,77.1 L754.1,77.1 L755.3,77.1 L756.4,77.1 L757.6,77.1 L758.7,77.1 L759.8,77.1 L761.0,77.1 L762.1,77.1 L763.3,77.1 L764.4,77.1 L765.6,77.1 L766.7,77.1 L767.8,77.1 L769.0,77.1 L770.1,77.1 L771.3,77.1 L772.4,77.1 L773.6,77.1 L774.7,77.1 L775.8,77.1 L777.0,77.1 L778.1,77.1 L779.3,77.1 L780.4,77.1 L781.6,77.1 L782.7,77.1 L783.8,77.1 L785.0,77.1 L786.1,77.1 L787.3,77.1 L788.4,77.1 L789.5,77.1 L790.7,77.1 L791.8,77.1 L793.0,77.1 L794.1,77.1 L795.3,77.1 L796.4,77.1 L797.5,77.1 L798.7,77.1 L799.8,77.1 L801.0,77.1 L802.1,77.1 L803.3,77.1 L804.4,77.1 L805.5,77.1 L806.7,77.1 L807.8,77.1 L809.0,77.1 L810.1,77.1 L811.3,77.1 L812.4,77.1 L813.5,77.1 L814.7,77.1 L815.8,77.1 L817.0,77.1 L818.1,77.1 L819.3,77.1 L820.4,77.1 L821.5,77.1 L822.7,77.1 L823.8,77.1 L825.0,77.1 L826.1,77.1 L827.3,77.1 L828.4,77.1 L829.5,77.1 L830.7,77.1 L831.8,77.1 L833.0,77.1 L834.1,77.1 L835.3,77.1 L836.4,77.1 L837.5,77.1 L838.7,77.1 L839.8,77.1 L841.0,77.1 L842.1,77.1 L843.3,77.1 L844.4,77.1 L845.5,77.1 L846.7,77.1 L847.8,77.1 L849.0,77.1 L850.1,77.1 L851.3,77.1 L852.4,77.1 L853.5,77.1 L854.7,77.1 L855.8,77.1 L857.0,77.1 L858.1,77.1 L859.3,77.1 L860.4,77.1 L861.5,77.1 L862.7,77.1 L863.8,77.1 L865.0,77.1 L866.1,77.1 L867.2,77.1 L868.4,77.1 L869.5,77.1 L870.7,77.1 L871.8,77.1 L873.0,77.1 L874.1,77.1 L875.2,77.1 L876.4,77.1 L877.5,77.1 L878.7,77.1 L879.8,77.1 L881.0,77.1 L882.1,77.1 L883.2,77.1 L884.4,77.1 L885.5,77.1 L886.7,77.1 L887.8,77.1 L889.0,77.1 L890.1,77.1 L891.2,77.1 L892.4,77.1 L893.5,77.1 L894.7,77.1 L895.8,77.1 L897.0,77.1 L898.1,77.1 L899.2,77.1 L900.4,77.1 L901.5,77.1 L902.7,77.1 L903.8,77.1 L905.0,77.1 L906.1,77.1 L907.2,77.1 L908.4,77.1 L909.5,77.1 L910.7,77.1 L911.8,77.1 L913.0,77.1 L914.1,77.1 L915.2,77.1 L916.4,77.1 L917.5,77.1 L918.7,77.1 L919.8,77.1 L921.0,77.1 L922.1,77.1 L923.2,77.1 L924.4,77.1 L925.5,77.1 L926.7,77.1 L927.8,77.1 L929.0,77.1 L930.1,77.1 L931.2,77.1 L932.4,77.1 L933.5,77.1 L934.7,77.1 L935.8,77.1 L936.9,77.1 L938.1,77.1 L939.2,77.1 L940.4,77.1 L941.5,77.1 L942.7,77.1 L943.8,77.1 L944.9,77.1 L946.1,77.1 L947.2,77.1 L948.4,77.1 L949.5,77.1 L950.7,77.1 L951.8,77.1 L952.9,77.1 L954.1,77.1 L955.2,77.1 L956.4,77.1 L957.5,77.1 L958.7,77.1 L959.8,77.1 L960.9,77.1 L962.1,77.1 L963.2,77.1 L964.4,77.1 L965.5,77.1 L966.7,77.1 L967.8,77.1 L968.9,77.1 L970.1,77.1 L971.2,77.1 L972.4,77.1 L973.5,77.1 L974.7,77.1 L975.8,77.1 L976.9,77.1 L978.1,77.1 L979.2,77.1 L980.4,77.1 L981.5,77.1 L982.7,77.1 L983.8,77.1 L984.9,77.1 L986.1,77.1 L987.2,77.1 L988.4,77.1 L989.5,77.1 L990.7,77.1 L991.8,77.1 L992.9,77.1 L994.1,77.1 L995.2,77.1 L996.4,77.1 L997.5,77.1 L998.7,77.1 L999.8,77.1 L1000.9,77.1 L1002.1,77.1 L1003.2,77.1 L1004.4,77.1 L1005.5,77.1 L1006.6,77.1 L1007.8,77.1 L1008.9,77.1 L1010.1,77.1 L1011.2,77.1 L1012.4,77.1 L1013.5,77.1 L1014.6,77.1 L1015.8,77.1 L1016.9,77.1 L1018.1,77.1 L1019.2,77.1 L1020.4,77.1 L1021.5,77.1 L1022.6,77.1 L1023.8,77.1 L1024.9,77.1 L1026.1,77.1 L1027.2,77.1 L1028.4,77.1 L1029.5,77.1 L1030.6,77.1 L1031.8,77.1 L1032.9,77.1 L1034.1,77.1 L1035.2,77.1 L1036.4,77.1 L1037.5,77.1 L1038.6,77.1 L1039.8,77.1 L1040.9,77.1 L1042.1,77.1 L1043.2,77.1 L1044.4,77.1 L1045.5,77.1 L1046.6,77.1 L1047.8,77.1 L1048.9,77.1 L1050.1,77.1 L1051.2,77.1 L1052.4,77.1 L1053.5,77.1 L1054.6,77.1 L1055.8,77.1 L1056.9,77.1 L1058.1,77.1 L1059.2,77.1 L1060.4,77.1 L1061.5,77.1 L1062.6,77.1 L1063.8,77.1 L1064.9,77.1 L1066.1,77.1 L1067.2,77.1 L1068.4,77.1 L1069.5,77.1 L1070.6,77.1 L1071.8,77.1 L1072.9,77.1 L1074.1,77.1 L1075.2,77.1 L1076.3,77.1 L1077.5,77.1 L1078.6,77.1 L1079.8,77.1 L1080.9,77.1 L1082.1,77.1 L1083.2,77.1 L1084.3,77.1 L1085.5,77.1 L1086.6,77.1 L1087.8,77.1 L1088.9,77.1 L1090.1,77.1 L1091.2,77.1 L1092.3,77.1 L1093.5,77.1 L1094.6,77.1 L1095.8,77.1 L1096.9,77.1 L1098.1,77.1 L1099.2,77.1 L1100.3,77.1 L1101.5,77.1 L1102.6,77.1 L1103.8,77.1 L1104.9,77.1 L1106.1,77.1 L1107.2,77.1 L1108.3,77.1 L1109.5,77.1 L1110.6,77.1 L1111.8,77.1 L1112.9,77.1 L1114.1,77.1 L1115.2,77.1 L1116.3,77.1 L1117.5,77.1 L1118.6,77.1 L1119.8,77.1 L1120.9,77.1 L1122.1,77.1 L1123.2,77.1 L1124.3,77.1 L1125.5,77.1 L1126.6,77.1 L1127.8,77.1 L1128.9,77.1 L1130.1,77.1 L1131.2,77.1 L1132.3,77.1 L1133.5,77.1 L1134.6,77.1 L1135.8,77.1 L1136.9,77.1 L1138.1,77.1 L1139.2,77.1 L1140.3,77.1 L1141.5,77.1 L1142.6,77.1 L1143.8,77.1 L1144.9,77.1 L1146.0,77.1 L1147.2,77.1 L1148.3,77.1 L1149.5,77.1 L1150.6,77.1 L1151.8,77.1 L1152.9,77.1 L1154.0,77.1 L1155.2,77.1 L1156.3,77.1 L1157.5,77.1 L1158.6,77.1 L1159.8,77.1 L1160.9,77.1 L1162.0,77.1 L1163.2,77.1 L1164.3,77.1 L1165.5,77.1 L1166.6,77.1 L1167.8,77.1 L1168.9,77.1 L1170.0,77.1 L1171.2,77.1 L1172.3,77.1 L1173.5,77.1 L1174.6,77.1 L1175.8,77.1 L1176.9,77.1 L1178.0,77.1 L1179.2,77.1 L1180.3,77.1 L1181.5,77.1 L1182.6,77.1 L1183.8,77.1 L1184.9,77.1 L1186.0,77.1 L1187.2,77.1 L1188.3,77.1 L1189.5,77.2 L1190.6,77.2 L1191.8,77.2 L1192.9,77.2 L1194.0,77.2 L1195.2,77.2 L1196.3,77.2 L1197.5,77.2 L1198.6,77.2 L1199.8,77.2 L1200.9,77.2 L1202.0,77.2 L1203.2,77.2 L1204.3,77.2 L1205.5,77.2 L1206.6,77.2 L1207.8,77.2 L1208.9,77.2 L1210.0,77.2 L1211.2,77.2 L1212.3,77.2 L1213.5,77.2 L1214.6,77.2 L1215.7,77.2 L1216.9,77.2 L1218.0,77.2 L1219.2,77.2 L1220.3,77.2 L1221.5,77.2 L1222.6,77.2 L1223.7,77.2 L1224.9,77.2 L1226.0,77.2 L1227.2,77.2 L1228.3,77.2 L1229.5,77.2 L1230.6,77.2 L1231.7,77.2 L1232.9,77.2 L1234.0,77.2 L1235.2,77.2 L1236.3,77.2 L1237.5,77.2 L1238.6,77.2 L1239.7,77.2 L1240.9,77.2 L1242.0,77.2 L1243.2,77.2 L1244.3,77.2 L1245.5,77.2 L1246.6,77.2 L1247.7,77.2 L1248.9,77.2 L1250.0,77.2 L1251.2,77.2 L1252.3,77.2 L1253.5,77.2 L1254.6,77.2 L1255.7,77.2 L1256.9,77.2 L1258.0,77.2 L1259.2,77.2 L1260.3,77.2 L1261.5,77.2 L1262.6,77.2 L1263.7,77.2 L1264.9,77.2 L1266.0,77.2 L1267.2,77.2 L1268.3,77.2 L1269.5,77.2 L1270.6,77.2 L1271.7,77.2 L1272.9,77.2 L1274.0,77.3 L1275.2,77.3 L1276.3,77.3 L1277.5,77.3 L1278.6,77.3 L1279.7,77.3 L1280.9,77.3 L1282.0,77.3 L1283.2,77.3 L1284.3,77.3 L1285.4,77.3 L1286.6,77.3 L1287.7,77.3 L1288.9,77.3 L1290.0,77.3 L1291.2,77.3 L1292.3,77.3 L1293.4,77.3 L1294.6,77.3 L1295.7,77.3 L1296.9,77.3 L1298.0,77.3 L1299.2,77.3 L1300.3,77.3 L1301.4,77.3 L1302.6,77.3 L1303.7,77.3 L1304.9,77.3 L1306.0,77.3 L1307.2,77.3 L1308.3,77.3 L1309.4,77.3 L1310.6,77.3 L1311.7,77.3 L1312.9,77.3 L1314.0,77.3 L1315.2,77.3 L1316.3,77.3 L1317.4,77.3 L1318.6,77.3 L1319.7,77.4 L1320.9,77.4 L1322.0,77.4 L1323.2,77.4 L1324.3,77.4 L1325.4,77.4 L1326.6,77.4 L1327.7,77.4 L1328.9,77.4 L1330.0,77.4 L1331.2,77.4 L1332.3,77.4 L1333.4,77.4 L1334.6,77.4 L1335.7,77.4 L1336.9,77.4 L1338.0,77.4 L1339.2,77.4 L1340.3,77.4 L1341.4,77.4 L1342.6,77.4 L1343.7,77.4 L1344.9,77.4 L1346.0,77.4 L1347.2,77.4 L1348.3,77.4 L1349.4,77.5 L1350.6,77.5 L1351.7,77.5 L1352.9,77.5 L1354.0,77.5 L1355.1,77.5 L1356.3,77.5 L1357.4,77.5 L1358.6,77.5 L1359.7,77.5 L1360.9,77.5 L1362.0,77.5 L1363.1,77.5 L1364.3,77.5 L1365.4,77.5 L1366.6,77.5 L1367.7,77.5 L1368.9,77.5 L1370.0,77.5 L1371.1,77.5 L1372.3,77.6 L1373.4,77.6 L1374.6,77.6 L1375.7,77.6 L1376.9,77.6 L1378.0,77.6 L1379.1,77.6 L1380.3,77.6 L1381.4,77.6 L1382.6,77.6 L1383.7,77.6 L1384.9,77.6 L1386.0,77.6 L1387.1,77.6 L1388.3,77.6 L1389.4,77.7 L1390.6,77.7 L1391.7,77.7 L1392.9,77.7 L1394.0,77.7 L1395.1,77.7 L1396.3,77.7 L1397.4,77.7 L1398.6,77.7 L1399.7,77.7 L1400.9,77.7 L1402.0,77.7 L1403.1,77.7 L1404.3,77.8 L1405.4,77.8 L1406.6,77.8 L1407.7,77.8 L1408.9,77.8 L1410.0,77.8 L1411.1,77.8 L1412.3,77.8 L1413.4,77.8 L1414.6,77.8 L1415.7,77.8 L1416.9,77.9 L1418.0,77.9 L1419.1,77.9 L1420.3,77.9 L1421.4,77.9 L1422.6,77.9 L1423.7,77.9 L1424.8,77.9 L1426.0,77.9 L1427.1,78.0 L1428.3,78.0 L1429.4,78.0 L1430.6,78.0 L1431.7,78.0 L1432.8,78.0 L1434.0,78.0 L1435.1,78.0 L1436.3,78.0 L1437.4,78.1 L1438.6,78.1 L1439.7,78.1 L1440.8,78.1 L1442.0,78.1 L1443.1,78.1 L1444.3,78.1 L1445.4,78.2 L1446.6,78.2 L1447.7,78.2 L1448.8,78.2 L1450.0,78.2 L1451.1,78.2 L1452.3,78.2 L1453.4,78.3 L1454.6,78.3 L1455.7,78.3 L1456.8,78.3 L1458.0,78.3 L1459.1,78.3 L1460.3,78.4 L1461.4,78.4 L1462.6,78.4 L1463.7,78.4 L1464.8,78.4 L1466.0,78.4 L1467.1,78.5 L1468.3,78.5 L1469.4,78.5 L1470.6,78.5 L1471.7,78.5 L1472.8,78.6 L1474.0,78.6 L1475.1,78.6 L1476.3,78.6 L1477.4,78.6 L1478.6,78.7 L1479.7,78.7 L1480.8,78.7 L1482.0,78.7 L1483.1,78.8 L1484.3,78.8 L1485.4,78.8 L1486.6,78.8 L1487.7,78.9 L1488.8,78.9 L1490.0,78.9 L1491.1,78.9 L1492.3,79.0 L1493.4,79.0 L1494.5,79.0 L1495.7,79.0 L1496.8,79.1 L1498.0,79.1 L1499.1,79.1 L1500.3,79.2 L1501.4,79.2 L1502.5,79.2 L1503.7,79.2 L1504.8,79.3 L1506.0,79.3 L1507.1,79.3 L1508.3,79.4 L1509.4,79.4 L1510.5,79.4 L1511.7,79.5 L1512.8,79.5 L1514.0,79.6 L1515.1,79.6 L1516.3,79.6 L1517.4,79.7 L1518.5,79.7 L1519.7,79.7 L1520.8,79.8 L1522.0,79.8 L1523.1,79.9 L1524.3,79.9 L1525.4,79.9 L1526.5,80.0 L1527.7,80.0 L1528.8,80.1 L1530.0,80.1 L1531.1,80.2 L1532.3,80.2 L1533.4,80.3 L1534.5,80.3 L1535.7,80.4 L1536.8,80.4 L1538.0,80.5 L1539.1,80.5 L1540.3,80.6 L1541.4,80.6 L1542.5,80.7 L1543.7,80.7 L1544.8,80.8 L1546.0,80.8 L1547.1,80.9 L1548.3,81.0 L1549.4,81.0 L1550.5,81.1 L1551.7,81.1 L1552.8,81.2 L1554.0,81.3 L1555.1,81.3 L1556.3,81.4 L1557.4,81.5 L1558.5,81.5 L1559.7,81.6 L1560.8,81.7 L1562.0,81.8 L1563.1,81.8 L1564.2,81.9 L1565.4,82.0 L1566.5,82.1 L1567.7,82.2 L1568.8,82.2 L1570.0,82.3 L1571.1,82.4 L1572.2,82.5 L1573.4,82.6 L1574.5,82.7 L1575.7,82.8 L1576.8,82.9 L1578.0,82.9 L1579.1,83.0 L1580.2,83.1 L1581.4,83.2 L1582.5,83.4 L1583.7,83.5 L1584.8,83.6 L1586.0,83.7 L1587.1,83.8 L1588.2,83.9 L1589.4,84.0 L1590.5,84.1 L1591.7,84.2 L1592.8,84.4 L1594.0,84.5 L1595.1,84.6 L1596.2,84.8 L1597.4,84.9 L1598.5,85.0 L1599.7,85.2 L1600.8,85.3 L1602.0,85.4 L1603.1,85.6 L1604.2,85.7 L1605.4,85.9 L1606.5,86.0 L1607.7,86.2 L1608.8,86.4 L1610.0,86.5 L1611.1,86.7 L1612.2,86.9 L1613.4,87.0 L1614.5,87.2 L1615.7,87.4 L1616.8,87.6 L1618.0,87.8 L1619.1,88.0 L1620.2,88.2 L1621.4,88.4 L1622.5,88.6 L1623.7,88.8 L1624.8,89.0 L1626.0,89.2 L1627.1,89.5 L1628.2,89.7 L1629.4,89.9 L1630.5,90.2 L1631.7,90.4 L1632.8,90.7 L1633.9,90.9 L1635.1,91.2 L1636.2,91.4 L1637.4,91.7 L1638.5,92.0 L1639.7,92.3 L1640.8,92.6 L1641.9,92.9 L1643.1,93.2 L1644.2,93.5 L1645.4,93.8 L1646.5,94.1 L1647.7,94.5 L1648.8,94.8 L1649.9,95.2 L1651.1,95.5 L1652.2,95.9 L1653.4,96.3 L1654.5,96.6 L1655.7,97.0 L1656.8,97.4 L1657.9,97.9 L1659.1,98.3 L1660.2,98.7 L1661.4,99.1 L1662.5,99.6 L1663.7,100.1 L1664.8,100.5 L1665.9,101.0 L1667.1,101.5 L1668.2,102.0 L1669.4,102.6 L1670.5,103.1 L1671.7,103.6 L1672.8,104.2 L1673.9,104.8 L1675.1,105.4 L1676.2,106.0 L1677.4,106.6 L1678.5,107.2 L1679.7,107.9 L1680.8,108.5 L1681.9,109.2 L1683.1,109.9 L1684.2,110.7 L1685.4,111.4 L1686.5,112.2 L1687.7,112.9 L1688.8,113.7 L1689.9,114.6 L1691.1,115.4 L1692.2,116.3 L1693.4,117.2 L1694.5,118.1 L1695.7,119.0 L1696.8,120.0 L1697.9,121.0 L1699.1,122.0 L1700.2,123.0 L1701.4,124.1 L1702.5,125.2 L1703.7,126.4 L1704.8,127.5 L1705.9,128.7 L1707.1,130.0 L1708.2,131.2 L1709.4,132.5 L1710.5,133.9 L1711.6,135.3 L1712.8,136.7 L1713.9,138.2 L1715.1,139.7 L1716.2,141.2 L1717.4,142.8 L1718.5,144.5 L1719.6,146.1 L1720.8,147.9 L1721.9,149.7 L1723.1,151.5 L1724.2,153.5 L1725.4,155.4 L1726.5,157.4 L1727.6,159.5 L1728.8,161.7 L1729.9,163.9 L1731.1,166.2 L1732.2,168.6 L1733.4,171.0 L1734.5,173.5 L1735.6,176.1 L1736.8,178.8 L1737.9,181.6 L1739.1,184.4 L1740.2,187.4 L1741.4,190.4 L1742.5,193.5 L1743.6,196.8 L1744.8,200.1 L1745.9,203.6 L1747.1,207.2 L1748.2,210.9 L1749.4,214.7 L1750.5,218.7 L1751.6,222.8 L1752.8,227.0 L1753.9,231.4 L1755.1,235.9 L1756.2,240.6 L1757.4,245.4 L1758.5,250.4 L1759.6,255.6 L1760.8,261.0 L1761.9,266.6 L1763.1,272.3 L1764.2,278.3 L1765.4,284.4 L1766.5,290.8 L1767.6,297.4 L1768.8,304.3 L1769.9,311.4 L1771.1,318.7 L1772.2,326.3 L1773.4,334.2 L1774.5,342.4 L1775.6,350.9 L1776.8,359.6 L1777.9,368.7 L1779.1,378.1 L1780.2,387.9 L1781.3,397.9 L1782.5,408.4 L1783.6,419.2 L1784.8,430.4 L1785.9,442.0 L1787.1,454.0 L1788.2,466.4 L1789.3,479.3 L1790.5,492.6 L1791.6,506.3 L1792.8,520.5 L1793.9,535.2 L1795.1,550.3 L1796.2,566.0 L1797.3,582.1 L1798.5,598.8 L1799.6,615.9 L1800.8,633.6 L1801.9,651.8 L1803.1,670.4 L1804.2,689.7 L1805.3,709.4 L1806.5,729.6 L1807.6,750.3 L1808.8,771.5 L1809.9,793.1 L1811.1,815.2 L1812.2,837.7 L1813.3,860.6 L1814.5,883.8 L1815.6,907.4 L1816.8,931.2 L1817.9,955.3 L1819.1,979.6 L1820.2,1003.9 L1821.3,1028.4 L1822.5,1052.8 L1823.6,1077.1 L1824.8,1101.3 L1825.9,1125.3 L1827.1,1148.9 L1828.2,1172.2 L1829.3,1194.9 L1830.5,1217.1 L1831.6,1238.6 L1832.8,1259.4 L1833.9,1279.4 L1835.1,1298.4 L1836.2,1316.5 L1837.3,1333.5 L1838.5,1349.3 L1839.6,1364.0 L1840.8,1377.4 L1841.9,1389.5 L1843.1,1400.3 L1844.2,1409.7 L1845.3,1417.7 L1846.5,1424.3 L1847.6,1429.6 L1848.8,1433.4 L1849.9,1435.9 L1851.0,1437.0 L1852.2,1436.8 L1853.3,1435.3 L1854.5,1432.6 L1855.6,1428.7 L1856.8,1423.7 L1857.9,1417.6 L1859.0,1410.5 L1860.2,1402.5 L1861.3,1393.6 L1862.5,1383.9 L1863.6,1373.4 L1864.8,1362.3 L1865.9,1350.6 L1867.0,1338.4 L1868.2,1325.7 L1869.3,1312.5 L1870.5,1299.0 L1871.6,1285.2 L1872.8,1271.2 L1873.9,1256.9 L1875.0,1242.5 L1876.2,1228.0 L1877.3,1213.3 L1878.5,1198.7 L1879.6,1184.1 L1880.8,1169.4 L1881.9,1154.9 L1883.0,1140.4 L1884.2,1126.0 L1885.3,1111.7 L1886.5,1097.6 L1887.6,1083.6 L1888.8,1069.8 L1889.9,1056.2 L1891.0,1042.8 L1892.2,1029.6 L1893.3,1016.5 L1894.5,1003.7 L1895.6,991.2 L1896.8,978.8 L1897.9,966.7 L1899.0,954.8 L1900.2,943.2 L1901.3,931.7 L1902.5,920.6 L1903.6,909.6 L1904.8,898.9 L1905.9,888.4 L1907.0,878.1 L1908.2,868.1 L1909.3,858.3 L1910.5,848.7 L1911.6,839.3 L1912.8,830.1 L1913.9,821.2 L1915.0,812.4 L1916.2,803.9 L1917.3,795.5 L1918.5,787.4 L1919.6,779.4 L1920.7,771.7 L1921.9,764.1 L1923.0,756.7 L1924.2,749.5 L1925.3,742.4 L1926.5,735.5 L1927.6,728.8 L1928.7,722.3 L1929.9,715.9 L1931.0,709.6 L1932.2,703.5 L1933.3,697.6 L1934.5,691.8 L1935.6,686.2 L1936.7,680.6 L1937.9,675.3 L1939.0,670.0 L1940.2,664.9 L1941.3,659.9 L1942.5,655.0 L1943.6,650.3 L1944.7,645.6 L1945.9,641.1 L1947.0,636.7 L1948.2,632.4 L1949.3,628.2 L1950.5,624.1 L1951.6,620.1 L1952.7,616.2 L1953.9,612.4 L1955.0,608.7 L1956.2,605.0 L1957.3,601.5 L1958.5,598.1 L1959.6,594.7 L1960.7,591.5 L1961.9,588.3 L1963.0,585.2 L1964.2,582.1 L1965.3,579.2 L1966.5,576.3 L1967.6,573.5 L1968.7,570.8 L1969.9,568.1 L1971.0,565.5 L1972.2,563.0 L1973.3,560.5 L1974.5,558.1 L1975.6,555.8 L1976.7,553.5 L1977.9,551.3 L1979.0,549.2 L1980.2,547.1 L1981.3,545.1 L1982.5,543.1 L1983.6,541.2 L1984.7,539.3 L1985.9,537.5 L1987.0,535.7 L1988.2,534.0 L1989.3,532.3 L1990.4,530.7 L1991.6,529.1 L1992.7,527.6 L1993.9,526.1 L1995.0,524.7 L1996.2,523.3 L1997.3,522.0 L1998.4,520.7 L1999.6,519.4 L2000.7,518.2 L2001.9,517.1 L2003.0,515.9 L2004.2,514.8 L2005.3,513.8 L2006.4,512.8 L2007.6,511.8 L2008.7,510.9 L2009.9,510.0 L2011.0,509.1 L2012.2,508.3 L2013.3,507.5 L2014.4,506.7 L2015.6,506.0 L2016.7,505.3 L2017.9,504.6 L2019.0,504.0 L2020.2,503.4 L2021.3,502.9 L2022.4,502.3 L2023.6,501.8 L2024.7,501.4 L2025.9,500.9 L2027.0,500.5 L2028.2,500.2 L2029.3,499.8 L2030.4,499.5 L2031.6,499.2 L2032.7,499.0 L2033.9,498.7 L2035.0,498.5 L2036.2,498.3 L2037.3,498.2 L2038.4,498.1 L2039.6,498.0 L2040.7,497.9 L2041.9,497.9 L2043.0,497.9 L2044.2,497.9 L2045.3,497.9 L2046.4,498.0 L2047.6,498.1 L2048.7,498.2 L2049.9,498.3 L2051.0,498.5 L2052.2,498.7 L2053.3,498.9 L2054.4,499.1 L2055.6,499.4 L2056.7,499.7 L2057.9,500.0 L2059.0,500.3 L2060.1,500.7 L2061.3,501.1 L2062.4,501.5 L2063.6,501.9 L2064.7,502.4 L2065.9,502.8 L2067.0,503.3 L2068.1,503.9 L2069.3,504.4 L2070.4,505.0 L2071.6,505.6 L2072.7,506.2 L2073.9,506.8 L2075.0,507.5 L2076.1,508.1 L2077.3,508.8 L2078.4,509.6 L2079.6,510.3 L2080.7,511.1 L2081.9,511.9 L2083.0,512.7 L2084.1,513.5 L2085.3,514.4 L2086.4,515.3 L2087.6,516.2 L2088.7,517.1 L2089.9,518.0 L2091.0,519.0 L2092.1,520.0 L2093.3,521.0 L2094.4,522.0 L2095.6,523.1 L2096.7,524.1 L2097.9,525.2 L2099.0,526.4 L2100.1,527.5 L2101.3,528.7 L2102.4,529.8 L2103.6,531.0 L2104.7,532.3 L2105.9,533.5 L2107.0,534.8 L2108.1,536.1 L2109.3,537.4 L2110.4,538.7 L2111.6,540.1 L2112.7,541.5 L2113.9,542.9 L2115.0,544.3 L2116.1,545.7 L2117.3,547.2 L2118.4,548.7 L2119.6,550.2 L2120.7,551.7 L2121.9,553.3 L2123.0,554.9 L2124.1,556.5 L2125.3,558.1 L2126.4,559.8 L2127.6,561.4 L2128.7,563.1 L2129.8,564.8 L2131.0,566.6 L2132.1,568.3 L2133.3,570.1 L2134.4,571.9 L2135.6,573.7 L2136.7,575.6 L2137.8,577.5 L2139.0,579.4 L2140.1,581.3 L2141.3,583.2 L2142.4,585.2 L2143.6,587.2 L2144.7,589.2 L2145.8,591.3 L2147.0,593.3 L2148.1,595.4 L2149.3,597.5 L2150.4,599.6 L2151.6,601.8 L2152.7,604.0 L2153.8,606.2 L2155.0,608.4 L2156.1,610.7 L2157.3,612.9 L2158.4,615.3 L2159.6,617.6 L2160.7,619.9" stroke="#f00" stroke-width="6.6"/>
</g>
<g fill="none" stroke="#000" stroke-linecap="round" stroke-linejoin="miter">
<rect x="865.2" y="201.4" width="521.5" height="388.6" stroke-width="7.0"/>
<path d="M921.1,590.0v-4.6M1014.2,590.0v-8.8M1107.3,590.0v-4.6M1200.5,590.0v-8.8M1293.6,590.0v-4.6M865.2,298.5h4.6M865.2,395.7h8.8M865.2,492.8h4.6" stroke-width="6.6"/>
</g>
<g>
<text class="k" font-size="56" text-anchor="end" transform="translate(845.1,316.8) scale(0.97,1)">0.9995</text>
<text class="k" font-size="56" text-anchor="end" transform="translate(840.8,415.7) scale(0.97,1)">0.999</text>
<text class="k" font-size="56" text-anchor="end" transform="translate(839.1,515.0) scale(0.97,1)">0.9985</text>
<text class="k" font-size="56" text-anchor="middle" transform="translate(1008.7,650.6) scale(0.97,1)">1.5</text>
<text class="k" font-size="56" text-anchor="middle" transform="translate(1203.0,650.6) scale(0.97,1)">2.0</text>
<text class="k" font-size="56" text-anchor="middle" transform="translate(1395.4,650.6) scale(0.97,1)">2.5</text>
</g>
<g clip-path="url(#ci)" fill="none" stroke-linejoin="round">
<path d="M865.2,687.1 L865.9,687.1 L866.7,687.1 L867.4,687.1 L868.2,687.1 L868.9,687.1 L869.7,687.1 L870.4,687.1 L871.2,687.1 L871.9,687.1 L872.7,687.1 L873.4,687.1 L874.1,687.1 L874.9,687.1 L875.6,687.1 L876.4,687.1 L877.1,687.1 L877.9,687.1 L878.6,687.1 L879.4,687.1 L880.1,687.1 L880.8,687.1 L881.6,687.1 L882.3,687.1 L883.1,687.1 L883.8,687.1 L884.6,687.1 L885.3,687.1 L886.1,687.1 L886.8,687.1 L887.6,687.1 L888.3,687.1 L889.0,687.1 L889.8,687.1 L890.5,687.1 L891.3,687.1 L892.0,687.1 L892.8,687.1 L893.5,687.1 L894.3,687.1 L895.0,687.1 L895.7,687.1 L896.5,687.1 L897.2,687.1 L898.0,687.1 L898.7,687.1 L899.5,687.1 L900.2,687.1 L901.0,687.1 L901.7,687.1 L902.5,687.1 L903.2,687.1 L903.9,687.1 L904.7,687.1 L905.4,687.1 L906.2,687.1 L906.9,687.1 L907.7,687.1 L908.4,687.1 L909.2,687.1 L909.9,687.1 L910.6,687.1 L911.4,687.1 L912.1,687.1 L912.9,687.1 L913.6,687.1 L914.4,687.1 L915.1,687.1 L915.9,687.1 L916.6,687.1 L917.4,687.1 L918.1,687.1 L918.8,687.1 L919.6,687.1 L920.3,687.1 L921.1,687.1 L921.8,687.1 L922.6,687.1 L923.3,687.1 L924.1,687.1 L924.8,687.1 L925.5,687.1 L926.3,687.1 L927.0,687.1 L927.8,687.1 L928.5,687.1 L929.3,687.1 L930.0,687.1 L930.8,687.1 L931.5,687.1 L932.2,687.1 L933.0,687.1 L933.7,687.1 L934.5,687.1 L935.2,687.1 L936.0,687.1 L936.7,687.1 L937.5,687.1 L938.2,687.1 L939.0,687.1 L939.7,687.1 L940.4,687.1 L941.2,687.1 L941.9,687.1 L942.7,687.1 L943.4,687.1 L944.2,687.1 L944.9,687.1 L945.7,687.1 L946.4,687.1 L947.2,687.1 L947.9,687.1 L948.6,687.1 L949.4,687.1 L950.1,687.1 L950.9,687.1 L951.6,687.1 L952.4,687.1 L953.1,687.1 L953.9,687.1 L954.6,687.1 L955.3,687.1 L956.1,687.1 L956.8,687.1 L957.6,687.1 L958.3,687.1 L959.1,687.1 L959.8,687.1 L960.6,687.1 L961.3,687.1 L962.1,687.1 L962.8,687.1 L963.5,687.1 L964.3,687.1 L965.0,687.1 L965.8,687.1 L966.5,687.1 L967.3,687.1 L968.0,687.1 L968.8,687.1 L969.5,687.1 L970.2,687.1 L971.0,687.1 L971.7,687.1 L972.5,687.1 L973.2,687.1 L974.0,687.1 L974.7,687.1 L975.5,687.1 L976.2,687.1 L977.0,687.1 L977.7,687.1 L978.4,687.1 L979.2,687.1 L979.9,687.1 L980.7,687.1 L981.4,687.1 L982.2,679.9 L982.9,671.4 L983.7,663.3 L984.4,655.4 L985.1,647.8 L985.9,640.5 L986.6,633.5 L987.4,626.7 L988.1,620.1 L988.9,613.8 L989.6,607.6 L990.4,601.7 L991.1,596.0 L991.9,590.5 L992.6,585.2 L993.3,580.0 L994.1,575.0 L994.8,570.2 L995.6,565.6 L996.3,561.0 L997.1,556.7 L997.8,552.5 L998.6,548.4 L999.3,544.4 L1000.0,540.6 L1000.8,536.9 L1001.5,533.3 L1002.3,529.8 L1003.0,526.4 L1003.8,523.2 L1004.5,520.0 L1005.3,517.0 L1006.0,514.0 L1006.8,511.1 L1007.5,508.4 L1008.2,505.7 L1009.0,503.1 L1009.7,500.5 L1010.5,498.1 L1011.2,495.7 L1012.0,493.5 L1012.7,491.2 L1013.5,489.1 L1014.2,487.0 L1014.9,485.0 L1015.7,483.1 L1016.4,481.2 L1017.2,479.4 L1017.9,477.6 L1018.7,475.9 L1019.4,474.3 L1020.2,472.7 L1020.9,471.1 L1021.7,469.7 L1022.4,468.2 L1023.1,466.9 L1023.9,465.5 L1024.6,464.3 L1025.4,463.0 L1026.1,461.9 L1026.9,460.7 L1027.6,459.6 L1028.4,458.6 L1029.1,457.6 L1029.8,456.6 L1030.6,455.7 L1031.3,454.8 L1032.1,454.0 L1032.8,453.2 L1033.6,452.4 L1034.3,451.7 L1035.1,451.0 L1035.8,450.3 L1036.5,449.7 L1037.3,449.1 L1038.0,448.6 L1038.8,448.1 L1039.5,447.6 L1040.3,447.2 L1041.0,446.8 L1041.8,446.4 L1042.5,446.0 L1043.3,445.7 L1044.0,445.4 L1044.7,445.2 L1045.5,445.0 L1046.2,444.8 L1047.0,444.6 L1047.7,444.5 L1048.5,444.4 L1049.2,444.3 L1050.0,444.3 L1050.7,444.3 L1051.5,444.3 L1052.2,444.3 L1052.9,444.4 L1053.7,444.5 L1054.4,444.7 L1055.2,444.8 L1055.9,445.0 L1056.7,445.2 L1057.4,445.5 L1058.2,445.7 L1058.9,446.0 L1059.6,446.4 L1060.4,446.7 L1061.1,447.1 L1061.9,447.5 L1062.6,448.0 L1063.4,448.4 L1064.1,448.9 L1064.9,449.4 L1065.6,450.0 L1066.4,450.6 L1067.1,451.2 L1067.8,451.8 L1068.6,452.4 L1069.3,453.1 L1070.1,453.8 L1070.8,454.6 L1071.6,455.4 L1072.3,456.1 L1073.1,457.0 L1073.8,457.8 L1074.5,458.7 L1075.3,459.6 L1076.0,460.6 L1076.8,461.5 L1077.5,462.5 L1078.3,463.6 L1079.0,464.6 L1079.8,465.7 L1080.5,466.8 L1081.2,468.0 L1082.0,469.1 L1082.7,470.3 L1083.5,471.6 L1084.2,472.8 L1085.0,474.1 L1085.7,475.5 L1086.5,476.8 L1087.2,478.2 L1088.0,479.7 L1088.7,481.1 L1089.4,482.6 L1090.2,484.1 L1090.9,485.7 L1091.7,487.3 L1092.4,488.9 L1093.2,490.6 L1093.9,492.3 L1094.7,494.0 L1095.4,495.8 L1096.2,497.6 L1096.9,499.5 L1097.6,501.4 L1098.4,503.3 L1099.1,505.2 L1099.9,507.2 L1100.6,509.3 L1101.4,511.4 L1102.1,513.5 L1102.9,515.6 L1103.6,517.8 L1104.3,520.1 L1105.1,522.4 L1105.8,524.7 L1106.6,527.1 L1107.3,529.5 L1108.1,532.0 L1108.8,534.5 L1109.6,537.0 L1110.3,539.7 L1111.1,542.3 L1111.8,545.0 L1112.5,547.8 L1113.3,550.6 L1114.0,553.4 L1114.8,556.3 L1115.5,559.3 L1116.3,562.3 L1117.0,565.4 L1117.8,568.5 L1118.5,571.7 L1119.2,574.9 L1120.0,578.2 L1120.7,581.6 L1121.5,585.0 L1122.2,588.5 L1123.0,592.0 L1123.7,595.6 L1124.5,599.3 L1125.2,603.0 L1126.0,606.8 L1126.7,610.7 L1127.4,614.6 L1128.2,618.6 L1128.9,622.7 L1129.7,626.8 L1130.4,631.1 L1131.2,635.3 L1131.9,639.7 L1132.7,644.2 L1133.4,648.7 L1134.1,653.3 L1134.9,658.0 L1135.6,662.8 L1136.4,667.7 L1137.1,672.6 L1137.9,677.7 L1138.6,682.8 L1139.4,687.1 L1140.1,687.1 L1140.8,687.1 L1141.6,687.1 L1142.3,687.1 L1143.1,687.1 L1143.8,687.1 L1144.6,687.1 L1145.3,687.1 L1146.1,687.1 L1146.8,687.1 L1147.6,687.1 L1148.3,687.1 L1149.0,687.1 L1149.8,687.1 L1150.5,687.1 L1151.3,687.1 L1152.0,687.1 L1152.8,687.1 L1153.5,687.1 L1154.3,687.1 L1155.0,687.1 L1155.8,687.1 L1156.5,687.1 L1157.2,687.1 L1158.0,687.1 L1158.7,687.1 L1159.5,687.1 L1160.2,687.1 L1161.0,687.1 L1161.7,687.1 L1162.5,687.1 L1163.2,687.1 L1163.9,687.1 L1164.7,687.1 L1165.4,687.1 L1166.2,687.1 L1166.9,687.1 L1167.7,687.1 L1168.4,687.1 L1169.2,687.1 L1169.9,687.1 L1170.7,687.1 L1171.4,687.1 L1172.1,687.1 L1172.9,687.1 L1173.6,687.1 L1174.4,687.1 L1175.1,687.1 L1175.9,687.1 L1176.6,687.1 L1177.4,687.1 L1178.1,687.1 L1178.8,687.1 L1179.6,687.1 L1180.3,687.1 L1181.1,687.1 L1181.8,687.1 L1182.6,687.1 L1183.3,687.1 L1184.1,687.1 L1184.8,687.1 L1185.5,687.1 L1186.3,687.1 L1187.0,687.1 L1187.8,687.1 L1188.5,687.1 L1189.3,687.1 L1190.0,687.1 L1190.8,687.1 L1191.5,687.1 L1192.3,687.1 L1193.0,687.1 L1193.7,687.1 L1194.5,687.1 L1195.2,687.1 L1196.0,687.1 L1196.7,687.1 L1197.5,687.1 L1198.2,687.1 L1199.0,687.1 L1199.7,687.1 L1200.5,687.1 L1201.2,687.1 L1201.9,687.1 L1202.7,687.1 L1203.4,687.1 L1204.2,687.1 L1204.9,687.1 L1205.7,687.1 L1206.4,687.1 L1207.2,687.1 L1207.9,687.1 L1208.6,687.1 L1209.4,687.1 L1210.1,687.1 L1210.9,687.1 L1211.6,687.1 L1212.4,687.1 L1213.1,687.1 L1213.9,687.1 L1214.6,687.1 L1215.4,687.1 L1216.1,687.1 L1216.8,687.1 L1217.6,687.1 L1218.3,687.1 L1219.1,687.1 L1219.8,687.1 L1220.6,687.1 L1221.3,687.1 L1222.1,687.1 L1222.8,687.1 L1223.5,687.1 L1224.3,687.1 L1225.0,687.1 L1225.8,687.1 L1226.5,687.1 L1227.3,687.1 L1228.0,687.1 L1228.8,687.1 L1229.5,687.1 L1230.2,687.1 L1231.0,687.1 L1231.7,687.1 L1232.5,687.1 L1233.2,687.1 L1234.0,687.1 L1234.7,687.1 L1235.5,687.1 L1236.2,687.1 L1237.0,687.1 L1237.7,687.1 L1238.4,687.1 L1239.2,687.1 L1239.9,687.1 L1240.7,687.1 L1241.4,687.1 L1242.2,687.1 L1242.9,687.1 L1243.7,687.1 L1244.4,687.1 L1245.2,687.1 L1245.9,687.1 L1246.6,687.1 L1247.4,687.1 L1248.1,687.1 L1248.9,687.1 L1249.6,687.1 L1250.4,687.1 L1251.1,687.1 L1251.9,687.1 L1252.6,687.1 L1253.3,687.1 L1254.1,687.1 L1254.8,687.1 L1255.6,687.1 L1256.3,687.1 L1257.1,687.1 L1257.8,687.1 L1258.6,687.1 L1259.3,687.1 L1260.1,687.1 L1260.8,687.1 L1261.5,687.1 L1262.3,687.1 L1263.0,687.1 L1263.8,687.1 L1264.5,687.1 L1265.3,687.1 L1266.0,687.1 L1266.8,687.1 L1267.5,687.1 L1268.2,687.1 L1269.0,687.1 L1269.7,687.1 L1270.5,687.1 L1271.2,687.1 L1272.0,687.1 L1272.7,687.1 L1273.5,687.1 L1274.2,687.1 L1275.0,687.1 L1275.7,687.1 L1276.4,687.1 L1277.2,687.1 L1277.9,687.1 L1278.7,687.1 L1279.4,687.1 L1280.2,687.1 L1280.9,687.1 L1281.7,687.1 L1282.4,687.1 L1283.1,687.1 L1283.9,687.1 L1284.6,687.1 L1285.4,687.1 L1286.1,687.1 L1286.9,687.1 L1287.6,687.1 L1288.4,687.1 L1289.1,687.1 L1289.9,687.1 L1290.6,687.1 L1291.3,687.1 L1292.1,687.1 L1292.8,687.1 L1293.6,687.1 L1294.3,687.1 L1295.1,687.1 L1295.8,687.1 L1296.6,687.1 L1297.3,687.1 L1298.0,687.1 L1298.8,687.1 L1299.5,687.1 L1300.3,687.1 L1301.0,687.1 L1301.8,687.1 L1302.5,687.1 L1303.3,687.1 L1304.0,687.1 L1304.8,687.1 L1305.5,687.1 L1306.2,687.1 L1307.0,687.1 L1307.7,687.1 L1308.5,687.1 L1309.2,687.1 L1310.0,687.1 L1310.7,687.1 L1311.5,687.1 L1312.2,687.1 L1312.9,687.1 L1313.7,687.1 L1314.4,687.1 L1315.2,687.1 L1315.9,687.1 L1316.7,687.1 L1317.4,687.1 L1318.2,687.1 L1318.9,687.1 L1319.7,687.1 L1320.4,687.1 L1321.1,687.1 L1321.9,687.1 L1322.6,687.1 L1323.4,687.1 L1324.1,687.1 L1324.9,687.1 L1325.6,687.1 L1326.4,687.1 L1327.1,687.1 L1327.8,687.1 L1328.6,687.1 L1329.3,687.1 L1330.1,687.1 L1330.8,687.1 L1331.6,687.1 L1332.3,687.1 L1333.1,687.1 L1333.8,687.1 L1334.6,687.1 L1335.3,687.1 L1336.0,687.1 L1336.8,687.1 L1337.5,687.1 L1338.3,687.1 L1339.0,687.1 L1339.8,687.1 L1340.5,687.1 L1341.3,687.1 L1342.0,687.1 L1342.7,687.1 L1343.5,687.1 L1344.2,687.1 L1345.0,687.1 L1345.7,687.1 L1346.5,687.1 L1347.2,687.1 L1348.0,687.1 L1348.7,687.1 L1349.5,687.1 L1350.2,687.1 L1350.9,687.1 L1351.7,687.1 L1352.4,687.1 L1353.2,687.1 L1353.9,687.1 L1354.7,687.1 L1355.4,687.1 L1356.2,687.1 L1356.9,687.1 L1357.6,687.1 L1358.4,687.1 L1359.1,687.1 L1359.9,687.1 L1360.6,687.1 L1361.4,687.1 L1362.1,687.1 L1362.9,687.1 L1363.6,687.1 L1364.4,687.1 L1365.1,687.1 L1365.8,687.1 L1366.6,687.1 L1367.3,687.1 L1368.1,687.1 L1368.8,687.1 L1369.6,687.1 L1370.3,687.1 L1371.1,687.1 L1371.8,687.1 L1372.5,687.1 L1373.3,687.1 L1374.0,687.1 L1374.8,687.1 L1375.5,687.1 L1376.3,687.1 L1377.0,687.1 L1377.8,687.1 L1378.5,687.1 L1379.3,687.1 L1380.0,687.1 L1380.7,687.1 L1381.5,687.1 L1382.2,687.1 L1383.0,687.1 L1383.7,687.1 L1384.5,687.1 L1385.2,687.1 L1386.0,687.1 L1386.7,687.1" stroke="#000" stroke-width="8.6"/>
<path d="M865.2,687.1 L865.9,687.1 L866.7,687.1 L867.4,687.1 L868.2,687.1 L868.9,687.1 L869.7,687.1 L870.4,687.1 L871.2,687.1 L871.9,687.1 L872.7,687.1 L873.4,687.1 L874.1,687.1 L874.9,687.1 L875.6,687.1 L876.4,687.1 L877.1,687.1 L877.9,687.1 L878.6,687.1 L879.4,687.1 L880.1,687.1 L880.8,687.1 L881.6,687.1 L882.3,687.1 L883.1,687.1 L883.8,687.1 L884.6,687.1 L885.3,687.1 L886.1,687.1 L886.8,687.1 L887.6,687.1 L888.3,687.1 L889.0,664.3 L889.8,622.9 L890.5,586.1 L891.3,553.2 L892.0,523.8 L892.8,497.4 L893.5,473.6 L894.3,452.2 L895.0,432.9 L895.7,415.4 L896.5,399.6 L897.2,385.2 L898.0,372.1 L898.7,360.2 L899.5,349.3 L900.2,339.3 L901.0,330.2 L901.7,321.9 L902.5,314.2 L903.2,307.1 L903.9,300.6 L904.7,294.6 L905.4,289.1 L906.2,284.0 L906.9,279.2 L907.7,274.8 L908.4,270.8 L909.2,267.0 L909.9,263.5 L910.6,260.2 L911.4,257.1 L912.1,254.3 L912.9,251.6 L913.6,249.1 L914.4,246.8 L915.1,244.6 L915.9,242.6 L916.6,240.7 L917.4,238.9 L918.1,237.2 L918.8,235.6 L919.6,234.1 L920.3,232.7 L921.1,231.4 L921.8,230.2 L922.6,229.0 L923.3,227.9 L924.1,226.8 L924.8,225.8 L925.5,224.9 L926.3,224.0 L927.0,223.2 L927.8,222.4 L928.5,221.6 L929.3,220.9 L930.0,220.2 L930.8,219.6 L931.5,218.9 L932.2,218.3 L933.0,217.8 L933.7,217.3 L934.5,216.7 L935.2,216.3 L936.0,215.8 L936.7,215.4 L937.5,214.9 L938.2,214.5 L939.0,214.1 L939.7,213.8 L940.4,213.4 L941.2,213.1 L941.9,212.8 L942.7,212.5 L943.4,212.2 L944.2,211.9 L944.9,211.6 L945.7,211.3 L946.4,211.1 L947.2,210.9 L947.9,210.6 L948.6,210.4 L949.4,210.2 L950.1,210.0 L950.9,209.8 L951.6,209.6 L952.4,209.4 L953.1,209.2 L953.9,209.1 L954.6,208.9 L955.3,208.8 L956.1,208.6 L956.8,208.5 L957.6,208.3 L958.3,208.2 L959.1,208.1 L959.8,207.9 L960.6,207.8 L961.3,207.7 L962.1,207.6 L962.8,207.5 L963.5,207.4 L964.3,207.3 L965.0,207.2 L965.8,207.1 L966.5,207.0 L967.3,206.9 L968.0,206.8 L968.8,206.7 L969.5,206.6 L970.2,206.5 L971.0,206.5 L971.7,206.4 L972.5,206.3 L973.2,206.3 L974.0,206.2 L974.7,206.1 L975.5,206.1 L976.2,206.0 L977.0,205.9 L977.7,205.9 L978.4,205.8 L979.2,205.8 L979.9,205.7 L980.7,205.7 L981.4,205.6 L982.2,205.6 L982.9,205.5 L983.7,205.5 L984.4,205.4 L985.1,205.4 L985.9,205.4 L986.6,205.3 L987.4,205.3 L988.1,205.3 L988.9,205.2 L989.6,205.2 L990.4,205.1 L991.1,205.1 L991.9,205.1 L992.6,205.1 L993.3,205.0 L994.1,205.0 L994.8,205.0 L995.6,204.9 L996.3,204.9 L997.1,204.9 L997.8,204.9 L998.6,204.8 L999.3,204.8 L1000.0,204.8 L1000.8,204.8 L1001.5,204.8 L1002.3,204.7 L1003.0,204.7 L1003.8,204.7 L1004.5,204.7 L1005.3,204.7 L1006.0,204.6 L1006.8,204.6 L1007.5,204.6 L1008.2,204.6 L1009.0,204.6 L1009.7,204.6 L1010.5,204.6 L1011.2,204.5 L1012.0,204.5 L1012.7,204.5 L1013.5,204.5 L1014.2,204.5 L1014.9,204.5 L1015.7,204.5 L1016.4,204.5 L1017.2,204.5 L1017.9,204.5 L1018.7,204.4 L1019.4,204.4 L1020.2,204.4 L1020.9,204.4 L1021.7,204.4 L1022.4,204.4 L1023.1,204.4 L1023.9,204.4 L1024.6,204.4 L1025.4,204.4 L1026.1,204.4 L1026.9,204.4 L1027.6,204.4 L1028.4,204.4 L1029.1,204.4 L1029.8,204.4 L1030.6,204.4 L1031.3,204.4 L1032.1,204.4 L1032.8,204.4 L1033.6,204.4 L1034.3,204.4 L1035.1,204.4 L1035.8,204.4 L1036.5,204.4 L1037.3,204.4 L1038.0,204.4 L1038.8,204.4 L1039.5,204.4 L1040.3,204.4 L1041.0,204.4 L1041.8,204.4 L1042.5,204.4 L1043.3,204.4 L1044.0,204.4 L1044.7,204.4 L1045.5,204.4 L1046.2,204.4 L1047.0,204.5 L1047.7,204.5 L1048.5,204.5 L1049.2,204.5 L1050.0,204.5 L1050.7,204.5 L1051.5,204.5 L1052.2,204.5 L1052.9,204.5 L1053.7,204.5 L1054.4,204.5 L1055.2,204.5 L1055.9,204.6 L1056.7,204.6 L1057.4,204.6 L1058.2,204.6 L1058.9,204.6 L1059.6,204.6 L1060.4,204.6 L1061.1,204.6 L1061.9,204.7 L1062.6,204.7 L1063.4,204.7 L1064.1,204.7 L1064.9,204.7 L1065.6,204.7 L1066.4,204.7 L1067.1,204.8 L1067.8,204.8 L1068.6,204.8 L1069.3,204.8 L1070.1,204.8 L1070.8,204.8 L1071.6,204.9 L1072.3,204.9 L1073.1,204.9 L1073.8,204.9 L1074.5,204.9 L1075.3,205.0 L1076.0,205.0 L1076.8,205.0 L1077.5,205.0 L1078.3,205.0 L1079.0,205.1 L1079.8,205.1 L1080.5,205.1 L1081.2,205.1 L1082.0,205.2 L1082.7,205.2 L1083.5,205.2 L1084.2,205.2 L1085.0,205.3 L1085.7,205.3 L1086.5,205.3 L1087.2,205.3 L1088.0,205.4 L1088.7,205.4 L1089.4,205.4 L1090.2,205.5 L1090.9,205.5 L1091.7,205.5 L1092.4,205.5 L1093.2,205.6 L1093.9,205.6 L1094.7,205.6 L1095.4,205.7 L1096.2,205.7 L1096.9,205.7 L1097.6,205.8 L1098.4,205.8 L1099.1,205.8 L1099.9,205.9 L1100.6,205.9 L1101.4,206.0 L1102.1,206.0 L1102.9,206.0 L1103.6,206.1 L1104.3,206.1 L1105.1,206.2 L1105.8,206.2 L1106.6,206.2 L1107.3,206.3 L1108.1,206.3 L1108.8,206.4 L1109.6,206.4 L1110.3,206.5 L1111.1,206.5 L1111.8,206.6 L1112.5,206.6 L1113.3,206.6 L1114.0,206.7 L1114.8,206.7 L1115.5,206.8 L1116.3,206.8 L1117.0,206.9 L1117.8,207.0 L1118.5,207.0 L1119.2,207.1 L1120.0,207.1 L1120.7,207.2 L1121.5,207.2 L1122.2,207.3 L1123.0,207.4 L1123.7,207.4 L1124.5,207.5 L1125.2,207.5 L1126.0,207.6 L1126.7,207.7 L1127.4,207.7 L1128.2,207.8 L1128.9,207.9 L1129.7,207.9 L1130.4,208.0 L1131.2,208.1 L1131.9,208.2 L1132.7,208.2 L1133.4,208.3 L1134.1,208.4 L1134.9,208.5 L1135.6,208.5 L1136.4,208.6 L1137.1,208.7 L1137.9,208.8 L1138.6,208.9 L1139.4,208.9 L1140.1,209.0 L1140.8,209.1 L1141.6,209.2 L1142.3,209.3 L1143.1,209.4 L1143.8,209.5 L1144.6,209.6 L1145.3,209.7 L1146.1,209.8 L1146.8,209.9 L1147.6,210.0 L1148.3,210.1 L1149.0,210.2 L1149.8,210.3 L1150.5,210.4 L1151.3,210.5 L1152.0,210.6 L1152.8,210.7 L1153.5,210.9 L1154.3,211.0 L1155.0,211.1 L1155.8,211.2 L1156.5,211.3 L1157.2,211.5 L1158.0,211.6 L1158.7,211.7 L1159.5,211.8 L1160.2,212.0 L1161.0,212.1 L1161.7,212.3 L1162.5,212.4 L1163.2,212.5 L1163.9,212.7 L1164.7,212.8 L1165.4,213.0 L1166.2,213.1 L1166.9,213.3 L1167.7,213.5 L1168.4,213.6 L1169.2,213.8 L1169.9,213.9 L1170.7,214.1 L1171.4,214.3 L1172.1,214.5 L1172.9,214.6 L1173.6,214.8 L1174.4,215.0 L1175.1,215.2 L1175.9,215.4 L1176.6,215.6 L1177.4,215.8 L1178.1,216.0 L1178.8,216.2 L1179.6,216.4 L1180.3,216.6 L1181.1,216.8 L1181.8,217.0 L1182.6,217.3 L1183.3,217.5 L1184.1,217.7 L1184.8,218.0 L1185.5,218.2 L1186.3,218.5 L1187.0,218.7 L1187.8,219.0 L1188.5,219.2 L1189.3,219.5 L1190.0,219.7 L1190.8,220.0 L1191.5,220.3 L1192.3,220.6 L1193.0,220.9 L1193.7,221.1 L1194.5,221.4 L1195.2,221.7 L1196.0,222.1 L1196.7,222.4 L1197.5,222.7 L1198.2,223.0 L1199.0,223.3 L1199.7,223.7 L1200.5,224.0 L1201.2,224.4 L1201.9,224.7 L1202.7,225.1 L1203.4,225.5 L1204.2,225.8 L1204.9,226.2 L1205.7,226.6 L1206.4,227.0 L1207.2,227.4 L1207.9,227.8 L1208.6,228.2 L1209.4,228.7 L1210.1,229.1 L1210.9,229.6 L1211.6,230.0 L1212.4,230.5 L1213.1,230.9 L1213.9,231.4 L1214.6,231.9 L1215.4,232.4 L1216.1,232.9 L1216.8,233.4 L1217.6,234.0 L1218.3,234.5 L1219.1,235.0 L1219.8,235.6 L1220.6,236.2 L1221.3,236.7 L1222.1,237.3 L1222.8,237.9 L1223.5,238.6 L1224.3,239.2 L1225.0,239.8 L1225.8,240.5 L1226.5,241.1 L1227.3,241.8 L1228.0,242.5 L1228.8,243.2 L1229.5,243.9 L1230.2,244.7 L1231.0,245.4 L1231.7,246.2 L1232.5,247.0 L1233.2,247.8 L1234.0,248.6 L1234.7,249.4 L1235.5,250.2 L1236.2,251.1 L1237.0,252.0 L1237.7,252.9 L1238.4,253.8 L1239.2,254.7 L1239.9,255.7 L1240.7,256.6 L1241.4,257.6 L1242.2,258.7 L1242.9,259.7 L1243.7,260.7 L1244.4,261.8 L1245.2,262.9 L1245.9,264.0 L1246.6,265.2 L1247.4,266.4 L1248.1,267.6 L1248.9,268.8 L1249.6,270.0 L1250.4,271.3 L1251.1,272.6 L1251.9,273.9 L1252.6,275.3 L1253.3,276.7 L1254.1,278.1 L1254.8,279.5 L1255.6,281.0 L1256.3,282.5 L1257.1,284.1 L1257.8,285.6 L1258.6,287.2 L1259.3,288.9 L1260.1,290.6 L1260.8,292.3 L1261.5,294.0 L1262.3,295.8 L1263.0,297.7 L1263.8,299.5 L1264.5,301.5 L1265.3,303.4 L1266.0,305.4 L1266.8,307.5 L1267.5,309.6 L1268.2,311.7 L1269.0,313.9 L1269.7,316.1 L1270.5,318.4 L1271.2,320.8 L1272.0,323.2 L1272.7,325.6 L1273.5,328.1 L1274.2,330.7 L1275.0,333.3 L1275.7,336.0 L1276.4,338.8 L1277.2,341.6 L1277.9,344.4 L1278.7,347.4 L1279.4,350.4 L1280.2,353.5 L1280.9,356.7 L1281.7,359.9 L1282.4,363.2 L1283.1,366.6 L1283.9,370.1 L1284.6,373.6 L1285.4,377.2 L1286.1,381.0 L1286.9,384.8 L1287.6,388.7 L1288.4,392.7 L1289.1,396.8 L1289.9,401.0 L1290.6,405.3 L1291.3,409.7 L1292.1,414.2 L1292.8,418.9 L1293.6,423.6 L1294.3,428.5 L1295.1,433.5 L1295.8,438.6 L1296.6,443.8 L1297.3,449.2 L1298.0,454.7 L1298.8,460.3 L1299.5,466.1 L1300.3,472.1 L1301.0,478.1 L1301.8,484.4 L1302.5,490.8 L1303.3,497.4 L1304.0,504.1 L1304.8,511.0 L1305.5,518.1 L1306.2,525.4 L1307.0,532.9 L1307.7,540.6 L1308.5,548.4 L1309.2,556.5 L1310.0,564.8 L1310.7,573.3 L1311.5,582.1 L1312.2,591.1 L1312.9,600.3 L1313.7,609.8 L1314.4,619.5 L1315.2,629.5 L1315.9,639.8 L1316.7,650.4 L1317.4,661.2 L1318.2,672.4 L1318.9,683.8 L1319.7,687.1 L1320.4,687.1 L1321.1,687.1 L1321.9,687.1 L1322.6,687.1 L1323.4,687.1 L1324.1,687.1 L1324.9,687.1 L1325.6,687.1 L1326.4,687.1 L1327.1,687.1 L1327.8,687.1 L1328.6,687.1 L1329.3,687.1 L1330.1,687.1 L1330.8,687.1 L1331.6,687.1 L1332.3,687.1 L1333.1,687.1 L1333.8,687.1 L1334.6,687.1 L1335.3,687.1 L1336.0,687.1 L1336.8,687.1 L1337.5,687.1 L1338.3,687.1 L1339.0,687.1 L1339.8,687.1 L1340.5,687.1 L1341.3,687.1 L1342.0,687.1 L1342.7,687.1 L1343.5,687.1 L1344.2,687.1 L1345.0,687.1 L1345.7,687.1 L1346.5,687.1 L1347.2,687.1 L1348.0,687.1 L1348.7,687.1 L1349.5,687.1 L1350.2,687.1 L1350.9,687.1 L1351.7,687.1 L1352.4,687.1 L1353.2,687.1 L1353.9,687.1 L1354.7,687.1 L1355.4,687.1 L1356.2,687.1 L1356.9,687.1 L1357.6,687.1 L1358.4,687.1 L1359.1,687.1 L1359.9,687.1 L1360.6,687.1 L1361.4,687.1 L1362.1,687.1 L1362.9,687.1 L1363.6,687.1 L1364.4,687.1 L1365.1,687.1 L1365.8,687.1 L1366.6,687.1 L1367.3,687.1 L1368.1,687.1 L1368.8,687.1 L1369.6,687.1 L1370.3,687.1 L1371.1,687.1 L1371.8,687.1 L1372.5,687.1 L1373.3,687.1 L1374.0,687.1 L1374.8,687.1 L1375.5,687.1 L1376.3,687.1 L1377.0,687.1 L1377.8,687.1 L1378.5,687.1 L1379.3,687.1 L1380.0,687.1 L1380.7,687.1 L1381.5,687.1 L1382.2,687.1 L1383.0,687.1 L1383.7,687.1 L1384.5,687.1 L1385.2,687.1 L1386.0,687.1 L1386.7,687.1" stroke="#f00" stroke-width="9.0"/>
</g>
<g fill="none" stroke-linecap="round">
<path d="M1780.5,140.6H1924.7" stroke="#000" stroke-width="7.0"/>
<path d="M1780.5,243H1924.7" stroke="#f00" stroke-width="8.8"/>
</g>
<circle cx="1852.6" cy="140.6" r="6.5" fill="#000"/><circle cx="1852.3" cy="244.8" r="5.2" fill="#f00"/>
<text class="a" font-size="63.5" x="1942" y="163">Si-SiO<tspan font-size="38" x="2131.5" y="189">2</tspan></text>
<text class="a" font-size="63.5" text-anchor="start" x="1942.0" y="265.0">Si-air</text>
</g>
</svg></body></html>
